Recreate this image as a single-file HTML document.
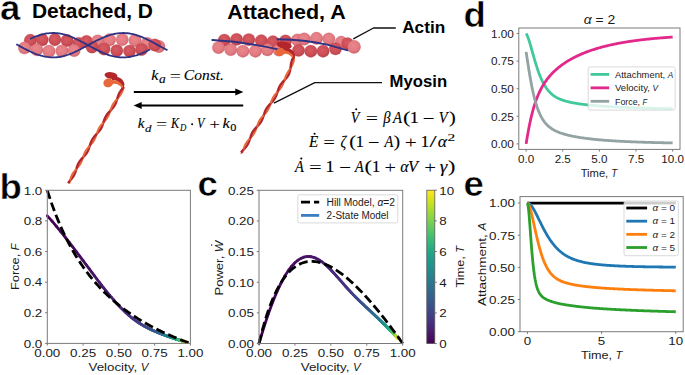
<!DOCTYPE html>
<html><head><meta charset="utf-8"><style>
html,body{margin:0;padding:0;background:#fff;overflow:hidden;}
svg{display:block;}
</style></head><body>
<svg width="685" height="375" viewBox="0 0 685 375" font-family='"Liberation Sans", sans-serif'>
<rect width="685" height="375" fill="#fff"/>
<line x1="47.3" y1="215.82" x2="52.06" y2="221.19" stroke="#440154" stroke-width="2.8" stroke-linecap="round"/>
<line x1="52.06" y1="221.19" x2="56.62" y2="226.55" stroke="#440256" stroke-width="2.8" stroke-linecap="round"/>
<line x1="56.62" y1="226.55" x2="60.98" y2="231.85" stroke="#450457" stroke-width="2.8" stroke-linecap="round"/>
<line x1="60.98" y1="231.85" x2="65.13" y2="237.05" stroke="#450559" stroke-width="2.8" stroke-linecap="round"/>
<line x1="65.13" y1="237.05" x2="69.09" y2="242.12" stroke="#46075a" stroke-width="2.8" stroke-linecap="round"/>
<line x1="69.09" y1="242.12" x2="72.86" y2="247.03" stroke="#46085c" stroke-width="2.8" stroke-linecap="round"/>
<line x1="72.86" y1="247.03" x2="76.44" y2="251.76" stroke="#460a5d" stroke-width="2.8" stroke-linecap="round"/>
<line x1="76.44" y1="251.76" x2="79.85" y2="256.3" stroke="#460b5e" stroke-width="2.8" stroke-linecap="round"/>
<line x1="79.85" y1="256.3" x2="83.09" y2="260.64" stroke="#470d60" stroke-width="2.8" stroke-linecap="round"/>
<line x1="83.09" y1="260.64" x2="86.16" y2="264.77" stroke="#470e61" stroke-width="2.8" stroke-linecap="round"/>
<line x1="86.16" y1="264.77" x2="89.09" y2="268.69" stroke="#471063" stroke-width="2.8" stroke-linecap="round"/>
<line x1="89.09" y1="268.69" x2="91.86" y2="272.41" stroke="#471164" stroke-width="2.8" stroke-linecap="round"/>
<line x1="91.86" y1="272.41" x2="94.5" y2="275.92" stroke="#471365" stroke-width="2.8" stroke-linecap="round"/>
<line x1="94.5" y1="275.92" x2="97.01" y2="279.23" stroke="#481467" stroke-width="2.8" stroke-linecap="round"/>
<line x1="97.01" y1="279.23" x2="99.4" y2="282.35" stroke="#481668" stroke-width="2.8" stroke-linecap="round"/>
<line x1="99.4" y1="282.35" x2="101.67" y2="285.29" stroke="#481769" stroke-width="2.8" stroke-linecap="round"/>
<line x1="101.67" y1="285.29" x2="103.83" y2="288.04" stroke="#48186a" stroke-width="2.8" stroke-linecap="round"/>
<line x1="103.83" y1="288.04" x2="105.9" y2="290.63" stroke="#481a6c" stroke-width="2.8" stroke-linecap="round"/>
<line x1="105.9" y1="290.63" x2="107.86" y2="293.05" stroke="#481b6d" stroke-width="2.8" stroke-linecap="round"/>
<line x1="107.86" y1="293.05" x2="109.74" y2="295.33" stroke="#481c6e" stroke-width="2.8" stroke-linecap="round"/>
<line x1="109.74" y1="295.33" x2="111.53" y2="297.46" stroke="#481d6f" stroke-width="2.8" stroke-linecap="round"/>
<line x1="111.53" y1="297.46" x2="113.24" y2="299.46" stroke="#481f70" stroke-width="2.8" stroke-linecap="round"/>
<line x1="113.24" y1="299.46" x2="114.88" y2="301.33" stroke="#482071" stroke-width="2.8" stroke-linecap="round"/>
<line x1="114.88" y1="301.33" x2="116.45" y2="303.08" stroke="#482173" stroke-width="2.8" stroke-linecap="round"/>
<line x1="116.45" y1="303.08" x2="117.96" y2="304.72" stroke="#482374" stroke-width="2.8" stroke-linecap="round"/>
<line x1="117.96" y1="304.72" x2="119.4" y2="306.26" stroke="#482475" stroke-width="2.8" stroke-linecap="round"/>
<line x1="119.4" y1="306.26" x2="120.79" y2="307.7" stroke="#482576" stroke-width="2.8" stroke-linecap="round"/>
<line x1="120.79" y1="307.7" x2="122.13" y2="309.05" stroke="#482677" stroke-width="2.8" stroke-linecap="round"/>
<line x1="122.13" y1="309.05" x2="123.41" y2="310.32" stroke="#482878" stroke-width="2.8" stroke-linecap="round"/>
<line x1="123.41" y1="310.32" x2="124.65" y2="311.51" stroke="#482979" stroke-width="2.8" stroke-linecap="round"/>
<line x1="124.65" y1="311.51" x2="125.85" y2="312.63" stroke="#472a7a" stroke-width="2.8" stroke-linecap="round"/>
<line x1="125.85" y1="312.63" x2="127" y2="313.69" stroke="#472c7a" stroke-width="2.8" stroke-linecap="round"/>
<line x1="127" y1="313.69" x2="128.11" y2="314.68" stroke="#472d7b" stroke-width="2.8" stroke-linecap="round"/>
<line x1="128.11" y1="314.68" x2="129.19" y2="315.61" stroke="#472e7c" stroke-width="2.8" stroke-linecap="round"/>
<line x1="129.19" y1="315.61" x2="130.23" y2="316.49" stroke="#472f7d" stroke-width="2.8" stroke-linecap="round"/>
<line x1="130.23" y1="316.49" x2="131.25" y2="317.32" stroke="#46307e" stroke-width="2.8" stroke-linecap="round"/>
<line x1="131.25" y1="317.32" x2="132.22" y2="318.1" stroke="#46327e" stroke-width="2.8" stroke-linecap="round"/>
<line x1="132.22" y1="318.1" x2="133.18" y2="318.84" stroke="#46337f" stroke-width="2.8" stroke-linecap="round"/>
<line x1="133.18" y1="318.84" x2="134.1" y2="319.54" stroke="#463480" stroke-width="2.8" stroke-linecap="round"/>
<line x1="134.1" y1="319.54" x2="135" y2="320.2" stroke="#453581" stroke-width="2.8" stroke-linecap="round"/>
<line x1="135" y1="320.2" x2="135.87" y2="320.83" stroke="#453781" stroke-width="2.8" stroke-linecap="round"/>
<line x1="135.87" y1="320.83" x2="136.72" y2="321.43" stroke="#453882" stroke-width="2.8" stroke-linecap="round"/>
<line x1="136.72" y1="321.43" x2="137.54" y2="321.99" stroke="#443a83" stroke-width="2.8" stroke-linecap="round"/>
<line x1="137.54" y1="321.99" x2="138.35" y2="322.53" stroke="#443b84" stroke-width="2.8" stroke-linecap="round"/>
<line x1="138.35" y1="322.53" x2="139.14" y2="323.05" stroke="#433d84" stroke-width="2.8" stroke-linecap="round"/>
<line x1="139.14" y1="323.05" x2="139.9" y2="323.54" stroke="#433e85" stroke-width="2.8" stroke-linecap="round"/>
<line x1="139.9" y1="323.54" x2="140.65" y2="324.01" stroke="#423f85" stroke-width="2.8" stroke-linecap="round"/>
<line x1="140.65" y1="324.01" x2="141.38" y2="324.45" stroke="#424086" stroke-width="2.8" stroke-linecap="round"/>
<line x1="141.38" y1="324.45" x2="142.1" y2="324.88" stroke="#424186" stroke-width="2.8" stroke-linecap="round"/>
<line x1="142.1" y1="324.88" x2="142.8" y2="325.29" stroke="#414287" stroke-width="2.8" stroke-linecap="round"/>
<line x1="142.8" y1="325.29" x2="143.48" y2="325.68" stroke="#414487" stroke-width="2.8" stroke-linecap="round"/>
<line x1="143.48" y1="325.68" x2="144.15" y2="326.06" stroke="#404588" stroke-width="2.8" stroke-linecap="round"/>
<line x1="144.15" y1="326.06" x2="144.8" y2="326.42" stroke="#404688" stroke-width="2.8" stroke-linecap="round"/>
<line x1="144.8" y1="326.42" x2="145.44" y2="326.77" stroke="#3f4788" stroke-width="2.8" stroke-linecap="round"/>
<line x1="145.44" y1="326.77" x2="146.07" y2="327.11" stroke="#3f4889" stroke-width="2.8" stroke-linecap="round"/>
<line x1="146.07" y1="327.11" x2="146.69" y2="327.43" stroke="#3e4989" stroke-width="2.8" stroke-linecap="round"/>
<line x1="146.69" y1="327.43" x2="147.29" y2="327.74" stroke="#3e4a89" stroke-width="2.8" stroke-linecap="round"/>
<line x1="147.29" y1="327.74" x2="147.88" y2="328.04" stroke="#3e4c8a" stroke-width="2.8" stroke-linecap="round"/>
<line x1="147.88" y1="328.04" x2="148.46" y2="328.33" stroke="#3d4d8a" stroke-width="2.8" stroke-linecap="round"/>
<line x1="148.46" y1="328.33" x2="149.03" y2="328.61" stroke="#3d4e8a" stroke-width="2.8" stroke-linecap="round"/>
<line x1="149.03" y1="328.61" x2="149.59" y2="328.89" stroke="#3c4f8a" stroke-width="2.8" stroke-linecap="round"/>
<line x1="149.59" y1="328.89" x2="150.14" y2="329.15" stroke="#3c508b" stroke-width="2.8" stroke-linecap="round"/>
<line x1="150.14" y1="329.15" x2="150.67" y2="329.41" stroke="#3b518b" stroke-width="2.8" stroke-linecap="round"/>
<line x1="150.67" y1="329.41" x2="151.2" y2="329.65" stroke="#3b528b" stroke-width="2.8" stroke-linecap="round"/>
<line x1="151.2" y1="329.65" x2="151.72" y2="329.89" stroke="#3a538b" stroke-width="2.8" stroke-linecap="round"/>
<line x1="151.72" y1="329.89" x2="152.23" y2="330.13" stroke="#3a548c" stroke-width="2.8" stroke-linecap="round"/>
<line x1="152.23" y1="330.13" x2="152.74" y2="330.36" stroke="#39558c" stroke-width="2.8" stroke-linecap="round"/>
<line x1="152.74" y1="330.36" x2="153.23" y2="330.58" stroke="#39568c" stroke-width="2.8" stroke-linecap="round"/>
<line x1="153.23" y1="330.58" x2="153.71" y2="330.79" stroke="#38588c" stroke-width="2.8" stroke-linecap="round"/>
<line x1="153.71" y1="330.79" x2="154.19" y2="331" stroke="#38598c" stroke-width="2.8" stroke-linecap="round"/>
<line x1="154.19" y1="331" x2="154.66" y2="331.21" stroke="#375a8c" stroke-width="2.8" stroke-linecap="round"/>
<line x1="154.66" y1="331.21" x2="155.12" y2="331.4" stroke="#375b8d" stroke-width="2.8" stroke-linecap="round"/>
<line x1="155.12" y1="331.4" x2="155.57" y2="331.6" stroke="#365c8d" stroke-width="2.8" stroke-linecap="round"/>
<line x1="155.57" y1="331.6" x2="156.02" y2="331.79" stroke="#365d8d" stroke-width="2.8" stroke-linecap="round"/>
<line x1="156.02" y1="331.79" x2="156.46" y2="331.97" stroke="#355e8d" stroke-width="2.8" stroke-linecap="round"/>
<line x1="156.46" y1="331.97" x2="156.89" y2="332.15" stroke="#355f8d" stroke-width="2.8" stroke-linecap="round"/>
<line x1="156.89" y1="332.15" x2="157.32" y2="332.33" stroke="#34608d" stroke-width="2.8" stroke-linecap="round"/>
<line x1="157.32" y1="332.33" x2="157.74" y2="332.5" stroke="#34618d" stroke-width="2.8" stroke-linecap="round"/>
<line x1="157.74" y1="332.5" x2="158.15" y2="332.67" stroke="#33628d" stroke-width="2.8" stroke-linecap="round"/>
<line x1="158.15" y1="332.67" x2="158.56" y2="332.83" stroke="#33638d" stroke-width="2.8" stroke-linecap="round"/>
<line x1="158.56" y1="332.83" x2="158.96" y2="332.99" stroke="#32648e" stroke-width="2.8" stroke-linecap="round"/>
<line x1="158.96" y1="332.99" x2="159.35" y2="333.15" stroke="#32658e" stroke-width="2.8" stroke-linecap="round"/>
<line x1="159.35" y1="333.15" x2="159.74" y2="333.3" stroke="#31668e" stroke-width="2.8" stroke-linecap="round"/>
<line x1="159.74" y1="333.3" x2="160.12" y2="333.46" stroke="#31678e" stroke-width="2.8" stroke-linecap="round"/>
<line x1="160.12" y1="333.46" x2="160.5" y2="333.6" stroke="#30698e" stroke-width="2.8" stroke-linecap="round"/>
<line x1="160.5" y1="333.6" x2="160.87" y2="333.75" stroke="#306a8e" stroke-width="2.8" stroke-linecap="round"/>
<line x1="160.87" y1="333.75" x2="161.23" y2="333.89" stroke="#2f6b8e" stroke-width="2.8" stroke-linecap="round"/>
<line x1="161.23" y1="333.89" x2="161.59" y2="334.03" stroke="#2f6c8e" stroke-width="2.8" stroke-linecap="round"/>
<line x1="161.59" y1="334.03" x2="161.95" y2="334.16" stroke="#2e6d8e" stroke-width="2.8" stroke-linecap="round"/>
<line x1="161.95" y1="334.16" x2="162.3" y2="334.3" stroke="#2e6e8e" stroke-width="2.8" stroke-linecap="round"/>
<line x1="162.3" y1="334.3" x2="162.64" y2="334.43" stroke="#2e6f8e" stroke-width="2.8" stroke-linecap="round"/>
<line x1="162.64" y1="334.43" x2="162.98" y2="334.56" stroke="#2d708e" stroke-width="2.8" stroke-linecap="round"/>
<line x1="162.98" y1="334.56" x2="163.32" y2="334.68" stroke="#2d718e" stroke-width="2.8" stroke-linecap="round"/>
<line x1="163.32" y1="334.68" x2="163.65" y2="334.81" stroke="#2c718e" stroke-width="2.8" stroke-linecap="round"/>
<line x1="163.65" y1="334.81" x2="163.97" y2="334.93" stroke="#2c728e" stroke-width="2.8" stroke-linecap="round"/>
<line x1="163.97" y1="334.93" x2="164.29" y2="335.05" stroke="#2c738e" stroke-width="2.8" stroke-linecap="round"/>
<line x1="164.29" y1="335.05" x2="164.61" y2="335.16" stroke="#2b748e" stroke-width="2.8" stroke-linecap="round"/>
<line x1="164.61" y1="335.16" x2="164.92" y2="335.28" stroke="#2b758e" stroke-width="2.8" stroke-linecap="round"/>
<line x1="164.92" y1="335.28" x2="165.23" y2="335.39" stroke="#2a768e" stroke-width="2.8" stroke-linecap="round"/>
<line x1="165.23" y1="335.39" x2="165.53" y2="335.5" stroke="#2a778e" stroke-width="2.8" stroke-linecap="round"/>
<line x1="165.53" y1="335.5" x2="165.83" y2="335.61" stroke="#2a788e" stroke-width="2.8" stroke-linecap="round"/>
<line x1="165.83" y1="335.61" x2="166.12" y2="335.72" stroke="#29798e" stroke-width="2.8" stroke-linecap="round"/>
<line x1="166.12" y1="335.72" x2="166.42" y2="335.82" stroke="#297a8e" stroke-width="2.8" stroke-linecap="round"/>
<line x1="166.42" y1="335.82" x2="166.7" y2="335.93" stroke="#297b8e" stroke-width="2.8" stroke-linecap="round"/>
<line x1="166.7" y1="335.93" x2="166.99" y2="336.03" stroke="#287c8e" stroke-width="2.8" stroke-linecap="round"/>
<line x1="166.99" y1="336.03" x2="167.26" y2="336.13" stroke="#287d8e" stroke-width="2.8" stroke-linecap="round"/>
<line x1="167.26" y1="336.13" x2="167.54" y2="336.23" stroke="#277e8e" stroke-width="2.8" stroke-linecap="round"/>
<line x1="167.54" y1="336.23" x2="167.81" y2="336.32" stroke="#277f8e" stroke-width="2.8" stroke-linecap="round"/>
<line x1="167.81" y1="336.32" x2="168.08" y2="336.42" stroke="#27808e" stroke-width="2.8" stroke-linecap="round"/>
<line x1="168.08" y1="336.42" x2="168.34" y2="336.51" stroke="#26818e" stroke-width="2.8" stroke-linecap="round"/>
<line x1="168.34" y1="336.51" x2="168.61" y2="336.6" stroke="#26828e" stroke-width="2.8" stroke-linecap="round"/>
<line x1="168.61" y1="336.6" x2="168.86" y2="336.69" stroke="#26828e" stroke-width="2.8" stroke-linecap="round"/>
<line x1="168.86" y1="336.69" x2="169.12" y2="336.78" stroke="#25838e" stroke-width="2.8" stroke-linecap="round"/>
<line x1="169.12" y1="336.78" x2="169.37" y2="336.87" stroke="#25848e" stroke-width="2.8" stroke-linecap="round"/>
<line x1="169.37" y1="336.87" x2="169.62" y2="336.95" stroke="#25858e" stroke-width="2.8" stroke-linecap="round"/>
<line x1="169.62" y1="336.95" x2="169.86" y2="337.04" stroke="#24868e" stroke-width="2.8" stroke-linecap="round"/>
<line x1="169.86" y1="337.04" x2="170.1" y2="337.12" stroke="#24878e" stroke-width="2.8" stroke-linecap="round"/>
<line x1="170.1" y1="337.12" x2="170.34" y2="337.2" stroke="#23888e" stroke-width="2.8" stroke-linecap="round"/>
<line x1="170.34" y1="337.2" x2="170.57" y2="337.28" stroke="#23898e" stroke-width="2.8" stroke-linecap="round"/>
<line x1="170.57" y1="337.28" x2="170.8" y2="337.36" stroke="#238a8d" stroke-width="2.8" stroke-linecap="round"/>
<line x1="170.8" y1="337.36" x2="171.03" y2="337.44" stroke="#228b8d" stroke-width="2.8" stroke-linecap="round"/>
<line x1="171.03" y1="337.44" x2="171.26" y2="337.52" stroke="#228c8d" stroke-width="2.8" stroke-linecap="round"/>
<line x1="171.26" y1="337.52" x2="171.48" y2="337.59" stroke="#228d8d" stroke-width="2.8" stroke-linecap="round"/>
<line x1="171.48" y1="337.59" x2="171.7" y2="337.67" stroke="#218e8d" stroke-width="2.8" stroke-linecap="round"/>
<line x1="171.7" y1="337.67" x2="171.92" y2="337.74" stroke="#218f8d" stroke-width="2.8" stroke-linecap="round"/>
<line x1="171.92" y1="337.74" x2="172.13" y2="337.81" stroke="#21918c" stroke-width="2.8" stroke-linecap="round"/>
<line x1="172.13" y1="337.81" x2="172.35" y2="337.89" stroke="#20928c" stroke-width="2.8" stroke-linecap="round"/>
<line x1="172.35" y1="337.89" x2="172.55" y2="337.96" stroke="#20928c" stroke-width="2.8" stroke-linecap="round"/>
<line x1="172.55" y1="337.96" x2="172.76" y2="338.02" stroke="#20938c" stroke-width="2.8" stroke-linecap="round"/>
<line x1="172.76" y1="338.02" x2="172.96" y2="338.09" stroke="#1f948c" stroke-width="2.8" stroke-linecap="round"/>
<line x1="172.96" y1="338.09" x2="173.17" y2="338.16" stroke="#1f958b" stroke-width="2.8" stroke-linecap="round"/>
<line x1="173.17" y1="338.16" x2="173.36" y2="338.23" stroke="#1f968b" stroke-width="2.8" stroke-linecap="round"/>
<line x1="173.36" y1="338.23" x2="173.56" y2="338.29" stroke="#1f978b" stroke-width="2.8" stroke-linecap="round"/>
<line x1="173.56" y1="338.29" x2="173.75" y2="338.35" stroke="#1f988b" stroke-width="2.8" stroke-linecap="round"/>
<line x1="173.75" y1="338.35" x2="173.95" y2="338.42" stroke="#1f998a" stroke-width="2.8" stroke-linecap="round"/>
<line x1="173.95" y1="338.42" x2="174.13" y2="338.48" stroke="#1f9a8a" stroke-width="2.8" stroke-linecap="round"/>
<line x1="174.13" y1="338.48" x2="174.32" y2="338.54" stroke="#1e9b8a" stroke-width="2.8" stroke-linecap="round"/>
<line x1="174.32" y1="338.54" x2="174.5" y2="338.6" stroke="#1e9c89" stroke-width="2.8" stroke-linecap="round"/>
<line x1="174.5" y1="338.6" x2="174.69" y2="338.66" stroke="#1e9d89" stroke-width="2.8" stroke-linecap="round"/>
<line x1="174.69" y1="338.66" x2="174.87" y2="338.72" stroke="#1f9e89" stroke-width="2.8" stroke-linecap="round"/>
<line x1="174.87" y1="338.72" x2="175.04" y2="338.78" stroke="#1f9f88" stroke-width="2.8" stroke-linecap="round"/>
<line x1="175.04" y1="338.78" x2="175.22" y2="338.83" stroke="#1fa088" stroke-width="2.8" stroke-linecap="round"/>
<line x1="175.22" y1="338.83" x2="175.39" y2="338.89" stroke="#1fa188" stroke-width="2.8" stroke-linecap="round"/>
<line x1="175.39" y1="338.89" x2="175.56" y2="338.95" stroke="#1fa187" stroke-width="2.8" stroke-linecap="round"/>
<line x1="175.56" y1="338.95" x2="175.73" y2="339" stroke="#1fa287" stroke-width="2.8" stroke-linecap="round"/>
<line x1="175.73" y1="339" x2="175.9" y2="339.05" stroke="#20a386" stroke-width="2.8" stroke-linecap="round"/>
<line x1="175.9" y1="339.05" x2="176.06" y2="339.11" stroke="#20a486" stroke-width="2.8" stroke-linecap="round"/>
<line x1="176.06" y1="339.11" x2="176.23" y2="339.16" stroke="#21a585" stroke-width="2.8" stroke-linecap="round"/>
<line x1="176.23" y1="339.16" x2="176.39" y2="339.21" stroke="#21a685" stroke-width="2.8" stroke-linecap="round"/>
<line x1="176.39" y1="339.21" x2="176.54" y2="339.26" stroke="#22a785" stroke-width="2.8" stroke-linecap="round"/>
<line x1="176.54" y1="339.26" x2="176.7" y2="339.31" stroke="#22a884" stroke-width="2.8" stroke-linecap="round"/>
<line x1="176.7" y1="339.31" x2="176.86" y2="339.36" stroke="#23a983" stroke-width="2.8" stroke-linecap="round"/>
<line x1="176.86" y1="339.36" x2="177.01" y2="339.41" stroke="#24aa83" stroke-width="2.8" stroke-linecap="round"/>
<line x1="177.01" y1="339.41" x2="177.16" y2="339.46" stroke="#25ab82" stroke-width="2.8" stroke-linecap="round"/>
<line x1="177.16" y1="339.46" x2="177.31" y2="339.51" stroke="#25ac82" stroke-width="2.8" stroke-linecap="round"/>
<line x1="177.31" y1="339.51" x2="177.46" y2="339.55" stroke="#26ad81" stroke-width="2.8" stroke-linecap="round"/>
<line x1="177.46" y1="339.55" x2="177.6" y2="339.6" stroke="#27ad81" stroke-width="2.8" stroke-linecap="round"/>
<line x1="177.6" y1="339.6" x2="177.75" y2="339.65" stroke="#28ae80" stroke-width="2.8" stroke-linecap="round"/>
<line x1="177.75" y1="339.65" x2="177.89" y2="339.69" stroke="#29af7f" stroke-width="2.8" stroke-linecap="round"/>
<line x1="177.89" y1="339.69" x2="178.03" y2="339.73" stroke="#2ab07f" stroke-width="2.8" stroke-linecap="round"/>
<line x1="178.03" y1="339.73" x2="178.17" y2="339.78" stroke="#2cb17e" stroke-width="2.8" stroke-linecap="round"/>
<line x1="178.17" y1="339.78" x2="178.31" y2="339.82" stroke="#2db27d" stroke-width="2.8" stroke-linecap="round"/>
<line x1="178.31" y1="339.82" x2="178.44" y2="339.86" stroke="#2eb37c" stroke-width="2.8" stroke-linecap="round"/>
<line x1="178.44" y1="339.86" x2="178.58" y2="339.91" stroke="#2fb47c" stroke-width="2.8" stroke-linecap="round"/>
<line x1="178.58" y1="339.91" x2="178.71" y2="339.95" stroke="#31b57b" stroke-width="2.8" stroke-linecap="round"/>
<line x1="178.71" y1="339.95" x2="178.84" y2="339.99" stroke="#32b67a" stroke-width="2.8" stroke-linecap="round"/>
<line x1="178.84" y1="339.99" x2="178.97" y2="340.03" stroke="#34b679" stroke-width="2.8" stroke-linecap="round"/>
<line x1="178.97" y1="340.03" x2="179.1" y2="340.07" stroke="#37b878" stroke-width="2.8" stroke-linecap="round"/>
<line x1="179.1" y1="340.07" x2="179.22" y2="340.11" stroke="#38b977" stroke-width="2.8" stroke-linecap="round"/>
<line x1="179.22" y1="340.11" x2="179.35" y2="340.15" stroke="#3aba76" stroke-width="2.8" stroke-linecap="round"/>
<line x1="179.35" y1="340.15" x2="179.47" y2="340.19" stroke="#3bbb75" stroke-width="2.8" stroke-linecap="round"/>
<line x1="179.47" y1="340.19" x2="179.59" y2="340.22" stroke="#3dbc74" stroke-width="2.8" stroke-linecap="round"/>
<line x1="179.59" y1="340.22" x2="179.71" y2="340.26" stroke="#3fbc73" stroke-width="2.8" stroke-linecap="round"/>
<line x1="179.71" y1="340.26" x2="179.83" y2="340.3" stroke="#40bd72" stroke-width="2.8" stroke-linecap="round"/>
<line x1="179.83" y1="340.3" x2="179.95" y2="340.33" stroke="#42be71" stroke-width="2.8" stroke-linecap="round"/>
<line x1="179.95" y1="340.33" x2="180.07" y2="340.37" stroke="#44bf70" stroke-width="2.8" stroke-linecap="round"/>
<line x1="180.07" y1="340.37" x2="180.18" y2="340.41" stroke="#46c06f" stroke-width="2.8" stroke-linecap="round"/>
<line x1="180.18" y1="340.41" x2="180.29" y2="340.44" stroke="#48c16e" stroke-width="2.8" stroke-linecap="round"/>
<line x1="180.29" y1="340.44" x2="180.41" y2="340.48" stroke="#4ac16d" stroke-width="2.8" stroke-linecap="round"/>
<line x1="180.41" y1="340.48" x2="180.52" y2="340.51" stroke="#4cc26c" stroke-width="2.8" stroke-linecap="round"/>
<line x1="180.52" y1="340.51" x2="180.63" y2="340.54" stroke="#4ec36b" stroke-width="2.8" stroke-linecap="round"/>
<line x1="180.63" y1="340.54" x2="180.74" y2="340.58" stroke="#50c46a" stroke-width="2.8" stroke-linecap="round"/>
<line x1="180.74" y1="340.58" x2="180.84" y2="340.61" stroke="#52c569" stroke-width="2.8" stroke-linecap="round"/>
<line x1="180.84" y1="340.61" x2="180.95" y2="340.64" stroke="#54c568" stroke-width="2.8" stroke-linecap="round"/>
<line x1="180.95" y1="340.64" x2="181.05" y2="340.67" stroke="#56c667" stroke-width="2.8" stroke-linecap="round"/>
<line x1="181.05" y1="340.67" x2="181.16" y2="340.7" stroke="#58c765" stroke-width="2.8" stroke-linecap="round"/>
<line x1="181.16" y1="340.7" x2="181.26" y2="340.74" stroke="#5ac864" stroke-width="2.8" stroke-linecap="round"/>
<line x1="181.26" y1="340.74" x2="181.36" y2="340.77" stroke="#5cc863" stroke-width="2.8" stroke-linecap="round"/>
<line x1="181.36" y1="340.77" x2="181.46" y2="340.8" stroke="#5ec962" stroke-width="2.8" stroke-linecap="round"/>
<line x1="181.46" y1="340.8" x2="181.56" y2="340.83" stroke="#60ca60" stroke-width="2.8" stroke-linecap="round"/>
<line x1="181.56" y1="340.83" x2="181.66" y2="340.86" stroke="#63cb5f" stroke-width="2.8" stroke-linecap="round"/>
<line x1="181.66" y1="340.86" x2="181.75" y2="340.89" stroke="#65cb5e" stroke-width="2.8" stroke-linecap="round"/>
<line x1="181.75" y1="340.89" x2="181.85" y2="340.92" stroke="#67cc5c" stroke-width="2.8" stroke-linecap="round"/>
<line x1="181.85" y1="340.92" x2="181.94" y2="340.94" stroke="#69cd5b" stroke-width="2.8" stroke-linecap="round"/>
<line x1="181.94" y1="340.94" x2="182.03" y2="340.97" stroke="#6ccd5a" stroke-width="2.8" stroke-linecap="round"/>
<line x1="182.03" y1="340.97" x2="182.13" y2="341" stroke="#6ece58" stroke-width="2.8" stroke-linecap="round"/>
<line x1="182.13" y1="341" x2="182.22" y2="341.03" stroke="#70cf57" stroke-width="2.8" stroke-linecap="round"/>
<line x1="182.22" y1="341.03" x2="182.31" y2="341.05" stroke="#73d056" stroke-width="2.8" stroke-linecap="round"/>
<line x1="182.31" y1="341.05" x2="182.4" y2="341.08" stroke="#75d054" stroke-width="2.8" stroke-linecap="round"/>
<line x1="182.4" y1="341.08" x2="182.48" y2="341.11" stroke="#77d153" stroke-width="2.8" stroke-linecap="round"/>
<line x1="182.48" y1="341.11" x2="182.57" y2="341.13" stroke="#7ad151" stroke-width="2.8" stroke-linecap="round"/>
<line x1="182.57" y1="341.13" x2="182.66" y2="341.16" stroke="#7cd250" stroke-width="2.8" stroke-linecap="round"/>
<line x1="182.66" y1="341.16" x2="182.74" y2="341.19" stroke="#7fd34e" stroke-width="2.8" stroke-linecap="round"/>
<line x1="182.74" y1="341.19" x2="182.83" y2="341.21" stroke="#81d34d" stroke-width="2.8" stroke-linecap="round"/>
<line x1="182.83" y1="341.21" x2="182.91" y2="341.24" stroke="#84d44b" stroke-width="2.8" stroke-linecap="round"/>
<line x1="182.91" y1="341.24" x2="182.99" y2="341.26" stroke="#86d549" stroke-width="2.8" stroke-linecap="round"/>
<line x1="182.99" y1="341.26" x2="183.07" y2="341.28" stroke="#89d548" stroke-width="2.8" stroke-linecap="round"/>
<line x1="183.07" y1="341.28" x2="183.15" y2="341.31" stroke="#8bd646" stroke-width="2.8" stroke-linecap="round"/>
<line x1="183.15" y1="341.31" x2="183.23" y2="341.33" stroke="#8ed645" stroke-width="2.8" stroke-linecap="round"/>
<line x1="183.23" y1="341.33" x2="183.31" y2="341.36" stroke="#93d741" stroke-width="2.8" stroke-linecap="round"/>
<line x1="183.31" y1="341.36" x2="183.39" y2="341.38" stroke="#95d840" stroke-width="2.8" stroke-linecap="round"/>
<line x1="183.39" y1="341.38" x2="183.47" y2="341.4" stroke="#98d83e" stroke-width="2.8" stroke-linecap="round"/>
<line x1="183.47" y1="341.4" x2="183.54" y2="341.42" stroke="#9bd93c" stroke-width="2.8" stroke-linecap="round"/>
<line x1="183.54" y1="341.42" x2="183.62" y2="341.45" stroke="#9dd93b" stroke-width="2.8" stroke-linecap="round"/>
<line x1="183.62" y1="341.45" x2="183.69" y2="341.47" stroke="#a0da39" stroke-width="2.8" stroke-linecap="round"/>
<line x1="183.69" y1="341.47" x2="183.76" y2="341.49" stroke="#a2da37" stroke-width="2.8" stroke-linecap="round"/>
<line x1="183.76" y1="341.49" x2="183.84" y2="341.51" stroke="#a5db36" stroke-width="2.8" stroke-linecap="round"/>
<line x1="183.84" y1="341.51" x2="183.91" y2="341.53" stroke="#a8db34" stroke-width="2.8" stroke-linecap="round"/>
<line x1="183.91" y1="341.53" x2="183.98" y2="341.55" stroke="#aadc32" stroke-width="2.8" stroke-linecap="round"/>
<line x1="183.98" y1="341.55" x2="184.05" y2="341.57" stroke="#addc30" stroke-width="2.8" stroke-linecap="round"/>
<line x1="184.05" y1="341.57" x2="184.12" y2="341.6" stroke="#b0dd2f" stroke-width="2.8" stroke-linecap="round"/>
<line x1="184.12" y1="341.6" x2="184.19" y2="341.62" stroke="#b2dd2d" stroke-width="2.8" stroke-linecap="round"/>
<line x1="184.19" y1="341.62" x2="184.25" y2="341.64" stroke="#b5de2b" stroke-width="2.8" stroke-linecap="round"/>
<line x1="184.25" y1="341.64" x2="184.32" y2="341.66" stroke="#b8de29" stroke-width="2.8" stroke-linecap="round"/>
<line x1="184.32" y1="341.66" x2="184.39" y2="341.67" stroke="#bade28" stroke-width="2.8" stroke-linecap="round"/>
<line x1="184.39" y1="341.67" x2="184.45" y2="341.69" stroke="#bddf26" stroke-width="2.8" stroke-linecap="round"/>
<line x1="184.45" y1="341.69" x2="184.52" y2="341.71" stroke="#c0df25" stroke-width="2.8" stroke-linecap="round"/>
<line x1="184.52" y1="341.71" x2="184.58" y2="341.73" stroke="#c2df23" stroke-width="2.8" stroke-linecap="round"/>
<line x1="184.58" y1="341.73" x2="184.64" y2="341.75" stroke="#c5e021" stroke-width="2.8" stroke-linecap="round"/>
<line x1="184.64" y1="341.75" x2="184.71" y2="341.77" stroke="#c8e020" stroke-width="2.8" stroke-linecap="round"/>
<line x1="184.71" y1="341.77" x2="184.77" y2="341.79" stroke="#cae11f" stroke-width="2.8" stroke-linecap="round"/>
<line x1="184.77" y1="341.79" x2="184.83" y2="341.81" stroke="#cde11d" stroke-width="2.8" stroke-linecap="round"/>
<line x1="184.83" y1="341.81" x2="184.89" y2="341.82" stroke="#d0e11c" stroke-width="2.8" stroke-linecap="round"/>
<line x1="184.89" y1="341.82" x2="184.95" y2="341.84" stroke="#d2e21b" stroke-width="2.8" stroke-linecap="round"/>
<line x1="184.95" y1="341.84" x2="185.01" y2="341.86" stroke="#d5e21a" stroke-width="2.8" stroke-linecap="round"/>
<line x1="185.01" y1="341.86" x2="185.07" y2="341.88" stroke="#d8e219" stroke-width="2.8" stroke-linecap="round"/>
<line x1="185.07" y1="341.88" x2="185.12" y2="341.89" stroke="#dae319" stroke-width="2.8" stroke-linecap="round"/>
<line x1="185.12" y1="341.89" x2="185.18" y2="341.91" stroke="#dde318" stroke-width="2.8" stroke-linecap="round"/>
<line x1="185.18" y1="341.91" x2="185.24" y2="341.93" stroke="#dfe318" stroke-width="2.8" stroke-linecap="round"/>
<line x1="185.24" y1="341.93" x2="185.29" y2="341.94" stroke="#e2e418" stroke-width="2.8" stroke-linecap="round"/>
<line x1="185.29" y1="341.94" x2="185.35" y2="341.96" stroke="#e5e419" stroke-width="2.8" stroke-linecap="round"/>
<line x1="185.35" y1="341.96" x2="185.4" y2="341.97" stroke="#e7e419" stroke-width="2.8" stroke-linecap="round"/>
<line x1="185.4" y1="341.97" x2="185.46" y2="341.99" stroke="#eae51a" stroke-width="2.8" stroke-linecap="round"/>
<line x1="185.46" y1="341.99" x2="185.51" y2="342.01" stroke="#ece51b" stroke-width="2.8" stroke-linecap="round"/>
<line x1="185.51" y1="342.01" x2="185.56" y2="342.02" stroke="#efe51c" stroke-width="2.8" stroke-linecap="round"/>
<line x1="185.56" y1="342.02" x2="185.62" y2="342.04" stroke="#f1e51d" stroke-width="2.8" stroke-linecap="round"/>
<line x1="185.62" y1="342.04" x2="185.67" y2="342.05" stroke="#f4e61e" stroke-width="2.8" stroke-linecap="round"/>
<line x1="185.67" y1="342.05" x2="185.72" y2="342.07" stroke="#f6e620" stroke-width="2.8" stroke-linecap="round"/>
<line x1="185.72" y1="342.07" x2="185.77" y2="342.08" stroke="#f8e621" stroke-width="2.8" stroke-linecap="round"/>
<line x1="185.77" y1="342.08" x2="185.82" y2="342.1" stroke="#fbe723" stroke-width="2.8" stroke-linecap="round"/>
<polyline points="47.3,190.3 48.02,192.59 48.74,194.83 49.46,197.02 50.18,199.18 50.9,201.29 51.61,203.36 52.33,205.39 53.05,207.39 53.77,209.35 54.49,211.27 55.21,213.16 55.93,215.02 56.65,216.84 57.37,218.63 58.09,220.39 58.81,222.11 59.52,223.81 60.24,225.48 60.96,227.12 61.68,228.74 62.4,230.32 63.12,231.88 63.84,233.42 64.56,234.93 65.28,236.41 66,237.88 66.72,239.32 67.43,240.73 68.15,242.13 68.87,243.5 69.59,244.85 70.31,246.18 71.03,247.5 71.75,248.79 72.47,250.06 73.19,251.31 73.91,252.55 74.63,253.77 75.34,254.97 76.06,256.15 76.78,257.32 77.5,258.46 78.22,259.6 78.94,260.72 79.66,261.82 80.38,262.9 81.1,263.98 81.82,265.03 82.54,266.08 83.25,267.11 83.97,268.12 84.69,269.12 85.41,270.11 86.13,271.09 86.85,272.05 87.57,273 88.29,273.94 89.01,274.87 89.73,275.78 90.45,276.69 91.16,277.58 91.88,278.46 92.6,279.33 93.32,280.19 94.04,281.04 94.76,281.88 95.48,282.71 96.2,283.53 96.92,284.34 97.64,285.14 98.36,285.93 99.07,286.71 99.79,287.49 100.51,288.25 101.23,289 101.95,289.75 102.67,290.49 103.39,291.22 104.11,291.94 104.83,292.65 105.55,293.36 106.27,294.05 106.98,294.74 107.7,295.43 108.42,296.1 109.14,296.77 109.86,297.43 110.58,298.08 111.3,298.73 112.02,299.37 112.74,300 113.46,300.63 114.18,301.25 114.89,301.86 115.61,302.47 116.33,303.07 117.05,303.66 117.77,304.25 118.49,304.84 119.21,305.41 119.93,305.98 120.65,306.55 121.37,307.11 122.09,307.66 122.81,308.21 123.52,308.76 124.24,309.3 124.96,309.83 125.68,310.36 126.4,310.88 127.12,311.4 127.84,311.91 128.56,312.42 129.28,312.92 130,313.42 130.72,313.92 131.43,314.41 132.15,314.89 132.87,315.37 133.59,315.85 134.31,316.32 135.03,316.79 135.75,317.25 136.47,317.71 137.19,318.17 137.91,318.62 138.63,319.07 139.34,319.51 140.06,319.95 140.78,320.38 141.5,320.82 142.22,321.25 142.94,321.67 143.66,322.09 144.38,322.51 145.1,322.92 145.82,323.33 146.54,323.74 147.25,324.14 147.97,324.54 148.69,324.94 149.41,325.33 150.13,325.72 150.85,326.11 151.57,326.49 152.29,326.87 153.01,327.25 153.73,327.63 154.45,328 155.16,328.37 155.88,328.73 156.6,329.09 157.32,329.45 158.04,329.81 158.76,330.17 159.48,330.52 160.2,330.87 160.92,331.21 161.64,331.55 162.36,331.9 163.07,332.23 163.79,332.57 164.51,332.9 165.23,333.23 165.95,333.56 166.67,333.89 167.39,334.21 168.11,334.53 168.83,334.85 169.55,335.16 170.27,335.48 170.98,335.79 171.7,336.1 172.42,336.4 173.14,336.71 173.86,337.01 174.58,337.31 175.3,337.61 176.02,337.9 176.74,338.2 177.46,338.49 178.18,338.78 178.89,339.06 179.61,339.35 180.33,339.63 181.05,339.91 181.77,340.19 182.49,340.47 183.21,340.75 183.93,341.02 184.65,341.29 185.37,341.56 186.09,341.83 186.8,342.1 187.52,342.36 188.24,342.62 188.96,342.88 189.68,343.14 190.4,343.4" fill="none" stroke="#000" stroke-width="2.8" stroke-linejoin="round" stroke-linecap="butt" stroke-dasharray="9 4"/>
<rect x="47.3" y="190.3" width="143.1" height="153.1" fill="none" stroke="#7a7a7a" stroke-width="1"/>
<line x1="47.3" y1="343.4" x2="47.3" y2="345.6" stroke="#7a7a7a" stroke-width="1"/>
<text x="47.3" y="357.2" font-size="11.7" text-anchor="middle" fill="#1a1a1a" textLength="26.05" lengthAdjust="spacingAndGlyphs">0.00</text>
<line x1="83.08" y1="343.4" x2="83.08" y2="345.6" stroke="#7a7a7a" stroke-width="1"/>
<text x="83.08" y="357.2" font-size="11.7" text-anchor="middle" fill="#1a1a1a" textLength="26.05" lengthAdjust="spacingAndGlyphs">0.25</text>
<line x1="118.85" y1="343.4" x2="118.85" y2="345.6" stroke="#7a7a7a" stroke-width="1"/>
<text x="118.85" y="357.2" font-size="11.7" text-anchor="middle" fill="#1a1a1a" textLength="26.05" lengthAdjust="spacingAndGlyphs">0.50</text>
<line x1="154.62" y1="343.4" x2="154.62" y2="345.6" stroke="#7a7a7a" stroke-width="1"/>
<text x="154.62" y="357.2" font-size="11.7" text-anchor="middle" fill="#1a1a1a" textLength="26.05" lengthAdjust="spacingAndGlyphs">0.75</text>
<line x1="190.4" y1="343.4" x2="190.4" y2="345.6" stroke="#7a7a7a" stroke-width="1"/>
<text x="190.4" y="357.2" font-size="11.7" text-anchor="middle" fill="#1a1a1a" textLength="26.05" lengthAdjust="spacingAndGlyphs">1.00</text>
<line x1="45.1" y1="343.4" x2="47.3" y2="343.4" stroke="#7a7a7a" stroke-width="1"/>
<text x="42.3" y="347.7" font-size="11.7" text-anchor="end" fill="#1a1a1a" textLength="18.61" lengthAdjust="spacingAndGlyphs">0.0</text>
<line x1="45.1" y1="312.78" x2="47.3" y2="312.78" stroke="#7a7a7a" stroke-width="1"/>
<text x="42.3" y="317.08" font-size="11.7" text-anchor="end" fill="#1a1a1a" textLength="18.61" lengthAdjust="spacingAndGlyphs">0.2</text>
<line x1="45.1" y1="282.16" x2="47.3" y2="282.16" stroke="#7a7a7a" stroke-width="1"/>
<text x="42.3" y="286.46" font-size="11.7" text-anchor="end" fill="#1a1a1a" textLength="18.61" lengthAdjust="spacingAndGlyphs">0.4</text>
<line x1="45.1" y1="251.54" x2="47.3" y2="251.54" stroke="#7a7a7a" stroke-width="1"/>
<text x="42.3" y="255.84" font-size="11.7" text-anchor="end" fill="#1a1a1a" textLength="18.61" lengthAdjust="spacingAndGlyphs">0.6</text>
<line x1="45.1" y1="220.92" x2="47.3" y2="220.92" stroke="#7a7a7a" stroke-width="1"/>
<text x="42.3" y="225.22" font-size="11.7" text-anchor="end" fill="#1a1a1a" textLength="18.61" lengthAdjust="spacingAndGlyphs">0.8</text>
<line x1="45.1" y1="190.3" x2="47.3" y2="190.3" stroke="#7a7a7a" stroke-width="1"/>
<text x="42.3" y="194.6" font-size="11.7" text-anchor="end" fill="#1a1a1a" textLength="18.61" lengthAdjust="spacingAndGlyphs">1.0</text>
<g transform="translate(118.5 371)">
<text x="-30.03" y="0" font-size="11.7" fill="#1a1a1a" textLength="52.35" lengthAdjust="spacingAndGlyphs">Velocity,&#160;</text>
<text x="22.31" y="0" font-size="11.7" fill="#1a1a1a" font-style="italic" textLength="7.72" lengthAdjust="spacingAndGlyphs">V</text>
</g>
<g transform="translate(18.9 266.7) rotate(-90)">
<text x="-23.25" y="0" font-size="11.7" fill="#1a1a1a" textLength="39.77" lengthAdjust="spacingAndGlyphs">Force,&#160;</text>
<text x="16.52" y="0" font-size="11.7" fill="#1a1a1a" font-style="italic" textLength="6.73" lengthAdjust="spacingAndGlyphs">F</text>
</g>
<line x1="259" y1="343.5" x2="263.78" y2="327.63" stroke="#440154" stroke-width="2.8" stroke-linecap="round"/>
<line x1="263.78" y1="327.63" x2="268.36" y2="313.8" stroke="#440256" stroke-width="2.8" stroke-linecap="round"/>
<line x1="268.36" y1="313.8" x2="272.73" y2="301.9" stroke="#450457" stroke-width="2.8" stroke-linecap="round"/>
<line x1="272.73" y1="301.9" x2="276.91" y2="291.79" stroke="#450559" stroke-width="2.8" stroke-linecap="round"/>
<line x1="276.91" y1="291.79" x2="280.88" y2="283.32" stroke="#46075a" stroke-width="2.8" stroke-linecap="round"/>
<line x1="280.88" y1="283.32" x2="284.66" y2="276.33" stroke="#46085c" stroke-width="2.8" stroke-linecap="round"/>
<line x1="284.66" y1="276.33" x2="288.26" y2="270.68" stroke="#460a5d" stroke-width="2.8" stroke-linecap="round"/>
<line x1="288.26" y1="270.68" x2="291.68" y2="266.19" stroke="#460b5e" stroke-width="2.8" stroke-linecap="round"/>
<line x1="291.68" y1="266.19" x2="294.94" y2="262.73" stroke="#470d60" stroke-width="2.8" stroke-linecap="round"/>
<line x1="294.94" y1="262.73" x2="298.03" y2="260.17" stroke="#470e61" stroke-width="2.8" stroke-linecap="round"/>
<line x1="298.03" y1="260.17" x2="300.96" y2="258.37" stroke="#471063" stroke-width="2.8" stroke-linecap="round"/>
<line x1="300.96" y1="258.37" x2="303.75" y2="257.22" stroke="#471164" stroke-width="2.8" stroke-linecap="round"/>
<line x1="303.75" y1="257.22" x2="306.4" y2="256.63" stroke="#471365" stroke-width="2.8" stroke-linecap="round"/>
<line x1="306.4" y1="256.63" x2="308.92" y2="256.51" stroke="#481467" stroke-width="2.8" stroke-linecap="round"/>
<line x1="308.92" y1="256.51" x2="311.32" y2="256.76" stroke="#481668" stroke-width="2.8" stroke-linecap="round"/>
<line x1="311.32" y1="256.76" x2="313.6" y2="257.33" stroke="#481769" stroke-width="2.8" stroke-linecap="round"/>
<line x1="313.6" y1="257.33" x2="315.77" y2="258.15" stroke="#48186a" stroke-width="2.8" stroke-linecap="round"/>
<line x1="315.77" y1="258.15" x2="317.84" y2="259.17" stroke="#481a6c" stroke-width="2.8" stroke-linecap="round"/>
<line x1="317.84" y1="259.17" x2="319.82" y2="260.35" stroke="#481b6d" stroke-width="2.8" stroke-linecap="round"/>
<line x1="319.82" y1="260.35" x2="321.7" y2="261.64" stroke="#481c6e" stroke-width="2.8" stroke-linecap="round"/>
<line x1="321.7" y1="261.64" x2="323.5" y2="263.03" stroke="#481d6f" stroke-width="2.8" stroke-linecap="round"/>
<line x1="323.5" y1="263.03" x2="325.22" y2="264.47" stroke="#481f70" stroke-width="2.8" stroke-linecap="round"/>
<line x1="325.22" y1="264.47" x2="326.87" y2="265.95" stroke="#482071" stroke-width="2.8" stroke-linecap="round"/>
<line x1="326.87" y1="265.95" x2="328.44" y2="267.46" stroke="#482173" stroke-width="2.8" stroke-linecap="round"/>
<line x1="328.44" y1="267.46" x2="329.96" y2="268.96" stroke="#482374" stroke-width="2.8" stroke-linecap="round"/>
<line x1="329.96" y1="268.96" x2="331.41" y2="270.46" stroke="#482475" stroke-width="2.8" stroke-linecap="round"/>
<line x1="331.41" y1="270.46" x2="332.8" y2="271.95" stroke="#482576" stroke-width="2.8" stroke-linecap="round"/>
<line x1="332.8" y1="271.95" x2="334.14" y2="273.41" stroke="#482677" stroke-width="2.8" stroke-linecap="round"/>
<line x1="334.14" y1="273.41" x2="335.43" y2="274.84" stroke="#482878" stroke-width="2.8" stroke-linecap="round"/>
<line x1="335.43" y1="274.84" x2="336.68" y2="276.23" stroke="#482979" stroke-width="2.8" stroke-linecap="round"/>
<line x1="336.68" y1="276.23" x2="337.88" y2="277.59" stroke="#472a7a" stroke-width="2.8" stroke-linecap="round"/>
<line x1="337.88" y1="277.59" x2="339.03" y2="278.91" stroke="#472c7a" stroke-width="2.8" stroke-linecap="round"/>
<line x1="339.03" y1="278.91" x2="340.15" y2="280.19" stroke="#472d7b" stroke-width="2.8" stroke-linecap="round"/>
<line x1="340.15" y1="280.19" x2="341.24" y2="281.43" stroke="#472e7c" stroke-width="2.8" stroke-linecap="round"/>
<line x1="341.24" y1="281.43" x2="342.28" y2="282.63" stroke="#472f7d" stroke-width="2.8" stroke-linecap="round"/>
<line x1="342.28" y1="282.63" x2="343.3" y2="283.78" stroke="#46307e" stroke-width="2.8" stroke-linecap="round"/>
<line x1="343.3" y1="283.78" x2="344.28" y2="284.9" stroke="#46327e" stroke-width="2.8" stroke-linecap="round"/>
<line x1="344.28" y1="284.9" x2="345.24" y2="285.98" stroke="#46337f" stroke-width="2.8" stroke-linecap="round"/>
<line x1="345.24" y1="285.98" x2="346.16" y2="287.01" stroke="#463480" stroke-width="2.8" stroke-linecap="round"/>
<line x1="346.16" y1="287.01" x2="347.06" y2="288.02" stroke="#453581" stroke-width="2.8" stroke-linecap="round"/>
<line x1="347.06" y1="288.02" x2="347.94" y2="288.98" stroke="#453781" stroke-width="2.8" stroke-linecap="round"/>
<line x1="347.94" y1="288.98" x2="348.79" y2="289.92" stroke="#453882" stroke-width="2.8" stroke-linecap="round"/>
<line x1="348.79" y1="289.92" x2="349.62" y2="290.82" stroke="#443a83" stroke-width="2.8" stroke-linecap="round"/>
<line x1="349.62" y1="290.82" x2="350.43" y2="291.69" stroke="#443b84" stroke-width="2.8" stroke-linecap="round"/>
<line x1="350.43" y1="291.69" x2="351.22" y2="292.53" stroke="#433d84" stroke-width="2.8" stroke-linecap="round"/>
<line x1="351.22" y1="292.53" x2="351.99" y2="293.34" stroke="#433e85" stroke-width="2.8" stroke-linecap="round"/>
<line x1="351.99" y1="293.34" x2="352.74" y2="294.12" stroke="#423f85" stroke-width="2.8" stroke-linecap="round"/>
<line x1="352.74" y1="294.12" x2="353.48" y2="294.89" stroke="#424086" stroke-width="2.8" stroke-linecap="round"/>
<line x1="353.48" y1="294.89" x2="354.19" y2="295.62" stroke="#424186" stroke-width="2.8" stroke-linecap="round"/>
<line x1="354.19" y1="295.62" x2="354.9" y2="296.34" stroke="#414287" stroke-width="2.8" stroke-linecap="round"/>
<line x1="354.9" y1="296.34" x2="355.58" y2="297.03" stroke="#414487" stroke-width="2.8" stroke-linecap="round"/>
<line x1="355.58" y1="297.03" x2="356.25" y2="297.7" stroke="#404588" stroke-width="2.8" stroke-linecap="round"/>
<line x1="356.25" y1="297.7" x2="356.91" y2="298.36" stroke="#404688" stroke-width="2.8" stroke-linecap="round"/>
<line x1="356.91" y1="298.36" x2="357.55" y2="298.99" stroke="#3f4788" stroke-width="2.8" stroke-linecap="round"/>
<line x1="357.55" y1="298.99" x2="358.18" y2="299.61" stroke="#3f4889" stroke-width="2.8" stroke-linecap="round"/>
<line x1="358.18" y1="299.61" x2="358.8" y2="300.21" stroke="#3e4989" stroke-width="2.8" stroke-linecap="round"/>
<line x1="358.8" y1="300.21" x2="359.41" y2="300.8" stroke="#3e4a89" stroke-width="2.8" stroke-linecap="round"/>
<line x1="359.41" y1="300.8" x2="360" y2="301.38" stroke="#3e4c8a" stroke-width="2.8" stroke-linecap="round"/>
<line x1="360" y1="301.38" x2="360.58" y2="301.93" stroke="#3d4d8a" stroke-width="2.8" stroke-linecap="round"/>
<line x1="360.58" y1="301.93" x2="361.16" y2="302.48" stroke="#3d4e8a" stroke-width="2.8" stroke-linecap="round"/>
<line x1="361.16" y1="302.48" x2="361.72" y2="303.02" stroke="#3c4f8a" stroke-width="2.8" stroke-linecap="round"/>
<line x1="361.72" y1="303.02" x2="362.27" y2="303.54" stroke="#3c508b" stroke-width="2.8" stroke-linecap="round"/>
<line x1="362.27" y1="303.54" x2="362.81" y2="304.05" stroke="#3b518b" stroke-width="2.8" stroke-linecap="round"/>
<line x1="362.81" y1="304.05" x2="363.34" y2="304.55" stroke="#3b528b" stroke-width="2.8" stroke-linecap="round"/>
<line x1="363.34" y1="304.55" x2="363.86" y2="305.04" stroke="#3a538b" stroke-width="2.8" stroke-linecap="round"/>
<line x1="363.86" y1="305.04" x2="364.37" y2="305.52" stroke="#3a548c" stroke-width="2.8" stroke-linecap="round"/>
<line x1="364.37" y1="305.52" x2="364.88" y2="305.99" stroke="#39558c" stroke-width="2.8" stroke-linecap="round"/>
<line x1="364.88" y1="305.99" x2="365.37" y2="306.46" stroke="#39568c" stroke-width="2.8" stroke-linecap="round"/>
<line x1="365.37" y1="306.46" x2="365.86" y2="306.91" stroke="#38588c" stroke-width="2.8" stroke-linecap="round"/>
<line x1="365.86" y1="306.91" x2="366.34" y2="307.36" stroke="#38598c" stroke-width="2.8" stroke-linecap="round"/>
<line x1="366.34" y1="307.36" x2="366.81" y2="307.8" stroke="#375a8c" stroke-width="2.8" stroke-linecap="round"/>
<line x1="366.81" y1="307.8" x2="367.27" y2="308.23" stroke="#375b8d" stroke-width="2.8" stroke-linecap="round"/>
<line x1="367.27" y1="308.23" x2="367.73" y2="308.65" stroke="#365c8d" stroke-width="2.8" stroke-linecap="round"/>
<line x1="367.73" y1="308.65" x2="368.18" y2="309.07" stroke="#365d8d" stroke-width="2.8" stroke-linecap="round"/>
<line x1="368.18" y1="309.07" x2="368.62" y2="309.48" stroke="#355e8d" stroke-width="2.8" stroke-linecap="round"/>
<line x1="368.62" y1="309.48" x2="369.05" y2="309.88" stroke="#355f8d" stroke-width="2.8" stroke-linecap="round"/>
<line x1="369.05" y1="309.88" x2="369.48" y2="310.28" stroke="#34608d" stroke-width="2.8" stroke-linecap="round"/>
<line x1="369.48" y1="310.28" x2="369.9" y2="310.67" stroke="#34618d" stroke-width="2.8" stroke-linecap="round"/>
<line x1="369.9" y1="310.67" x2="370.31" y2="311.06" stroke="#33628d" stroke-width="2.8" stroke-linecap="round"/>
<line x1="370.31" y1="311.06" x2="370.72" y2="311.44" stroke="#33638d" stroke-width="2.8" stroke-linecap="round"/>
<line x1="370.72" y1="311.44" x2="371.12" y2="311.81" stroke="#32648e" stroke-width="2.8" stroke-linecap="round"/>
<line x1="371.12" y1="311.81" x2="371.52" y2="312.18" stroke="#32658e" stroke-width="2.8" stroke-linecap="round"/>
<line x1="371.52" y1="312.18" x2="371.91" y2="312.54" stroke="#31668e" stroke-width="2.8" stroke-linecap="round"/>
<line x1="371.91" y1="312.54" x2="372.29" y2="312.9" stroke="#31678e" stroke-width="2.8" stroke-linecap="round"/>
<line x1="372.29" y1="312.9" x2="372.67" y2="313.26" stroke="#30698e" stroke-width="2.8" stroke-linecap="round"/>
<line x1="372.67" y1="313.26" x2="373.04" y2="313.61" stroke="#306a8e" stroke-width="2.8" stroke-linecap="round"/>
<line x1="373.04" y1="313.61" x2="373.41" y2="313.95" stroke="#2f6b8e" stroke-width="2.8" stroke-linecap="round"/>
<line x1="373.41" y1="313.95" x2="373.77" y2="314.29" stroke="#2f6c8e" stroke-width="2.8" stroke-linecap="round"/>
<line x1="373.77" y1="314.29" x2="374.13" y2="314.62" stroke="#2e6d8e" stroke-width="2.8" stroke-linecap="round"/>
<line x1="374.13" y1="314.62" x2="374.48" y2="314.95" stroke="#2e6e8e" stroke-width="2.8" stroke-linecap="round"/>
<line x1="374.48" y1="314.95" x2="374.82" y2="315.28" stroke="#2e6f8e" stroke-width="2.8" stroke-linecap="round"/>
<line x1="374.82" y1="315.28" x2="375.17" y2="315.6" stroke="#2d708e" stroke-width="2.8" stroke-linecap="round"/>
<line x1="375.17" y1="315.6" x2="375.5" y2="315.92" stroke="#2d718e" stroke-width="2.8" stroke-linecap="round"/>
<line x1="375.5" y1="315.92" x2="375.83" y2="316.24" stroke="#2c718e" stroke-width="2.8" stroke-linecap="round"/>
<line x1="375.83" y1="316.24" x2="376.16" y2="316.54" stroke="#2c728e" stroke-width="2.8" stroke-linecap="round"/>
<line x1="376.16" y1="316.54" x2="376.48" y2="316.85" stroke="#2c738e" stroke-width="2.8" stroke-linecap="round"/>
<line x1="376.48" y1="316.85" x2="376.8" y2="317.15" stroke="#2b748e" stroke-width="2.8" stroke-linecap="round"/>
<line x1="376.8" y1="317.15" x2="377.11" y2="317.45" stroke="#2b758e" stroke-width="2.8" stroke-linecap="round"/>
<line x1="377.11" y1="317.45" x2="377.42" y2="317.75" stroke="#2a768e" stroke-width="2.8" stroke-linecap="round"/>
<line x1="377.42" y1="317.75" x2="377.73" y2="318.04" stroke="#2a778e" stroke-width="2.8" stroke-linecap="round"/>
<line x1="377.73" y1="318.04" x2="378.03" y2="318.32" stroke="#2a788e" stroke-width="2.8" stroke-linecap="round"/>
<line x1="378.03" y1="318.32" x2="378.32" y2="318.61" stroke="#29798e" stroke-width="2.8" stroke-linecap="round"/>
<line x1="378.32" y1="318.61" x2="378.61" y2="318.89" stroke="#297a8e" stroke-width="2.8" stroke-linecap="round"/>
<line x1="378.61" y1="318.89" x2="378.9" y2="319.16" stroke="#297b8e" stroke-width="2.8" stroke-linecap="round"/>
<line x1="378.9" y1="319.16" x2="379.19" y2="319.44" stroke="#287c8e" stroke-width="2.8" stroke-linecap="round"/>
<line x1="379.19" y1="319.44" x2="379.47" y2="319.71" stroke="#287d8e" stroke-width="2.8" stroke-linecap="round"/>
<line x1="379.47" y1="319.71" x2="379.74" y2="319.98" stroke="#277e8e" stroke-width="2.8" stroke-linecap="round"/>
<line x1="379.74" y1="319.98" x2="380.02" y2="320.24" stroke="#277f8e" stroke-width="2.8" stroke-linecap="round"/>
<line x1="380.02" y1="320.24" x2="380.29" y2="320.5" stroke="#27808e" stroke-width="2.8" stroke-linecap="round"/>
<line x1="380.29" y1="320.5" x2="380.55" y2="320.76" stroke="#26818e" stroke-width="2.8" stroke-linecap="round"/>
<line x1="380.55" y1="320.76" x2="380.81" y2="321.01" stroke="#26828e" stroke-width="2.8" stroke-linecap="round"/>
<line x1="380.81" y1="321.01" x2="381.07" y2="321.26" stroke="#26828e" stroke-width="2.8" stroke-linecap="round"/>
<line x1="381.07" y1="321.26" x2="381.33" y2="321.51" stroke="#25838e" stroke-width="2.8" stroke-linecap="round"/>
<line x1="381.33" y1="321.51" x2="381.58" y2="321.76" stroke="#25848e" stroke-width="2.8" stroke-linecap="round"/>
<line x1="381.58" y1="321.76" x2="381.83" y2="322" stroke="#25858e" stroke-width="2.8" stroke-linecap="round"/>
<line x1="381.83" y1="322" x2="382.07" y2="322.24" stroke="#24868e" stroke-width="2.8" stroke-linecap="round"/>
<line x1="382.07" y1="322.24" x2="382.32" y2="322.47" stroke="#24878e" stroke-width="2.8" stroke-linecap="round"/>
<line x1="382.32" y1="322.47" x2="382.55" y2="322.71" stroke="#23888e" stroke-width="2.8" stroke-linecap="round"/>
<line x1="382.55" y1="322.71" x2="382.79" y2="322.94" stroke="#23898e" stroke-width="2.8" stroke-linecap="round"/>
<line x1="382.79" y1="322.94" x2="383.02" y2="323.17" stroke="#238a8d" stroke-width="2.8" stroke-linecap="round"/>
<line x1="383.02" y1="323.17" x2="383.25" y2="323.39" stroke="#228b8d" stroke-width="2.8" stroke-linecap="round"/>
<line x1="383.25" y1="323.39" x2="383.48" y2="323.62" stroke="#228c8d" stroke-width="2.8" stroke-linecap="round"/>
<line x1="383.48" y1="323.62" x2="383.7" y2="323.84" stroke="#228d8d" stroke-width="2.8" stroke-linecap="round"/>
<line x1="383.7" y1="323.84" x2="383.92" y2="324.05" stroke="#218e8d" stroke-width="2.8" stroke-linecap="round"/>
<line x1="383.92" y1="324.05" x2="384.14" y2="324.27" stroke="#218f8d" stroke-width="2.8" stroke-linecap="round"/>
<line x1="384.14" y1="324.27" x2="384.36" y2="324.48" stroke="#21918c" stroke-width="2.8" stroke-linecap="round"/>
<line x1="384.36" y1="324.48" x2="384.57" y2="324.69" stroke="#20928c" stroke-width="2.8" stroke-linecap="round"/>
<line x1="384.57" y1="324.69" x2="384.78" y2="324.9" stroke="#20928c" stroke-width="2.8" stroke-linecap="round"/>
<line x1="384.78" y1="324.9" x2="384.99" y2="325.11" stroke="#20938c" stroke-width="2.8" stroke-linecap="round"/>
<line x1="384.99" y1="325.11" x2="385.19" y2="325.31" stroke="#1f948c" stroke-width="2.8" stroke-linecap="round"/>
<line x1="385.19" y1="325.31" x2="385.39" y2="325.51" stroke="#1f958b" stroke-width="2.8" stroke-linecap="round"/>
<line x1="385.39" y1="325.51" x2="385.59" y2="325.71" stroke="#1f968b" stroke-width="2.8" stroke-linecap="round"/>
<line x1="385.59" y1="325.71" x2="385.79" y2="325.91" stroke="#1f978b" stroke-width="2.8" stroke-linecap="round"/>
<line x1="385.79" y1="325.91" x2="385.98" y2="326.1" stroke="#1f988b" stroke-width="2.8" stroke-linecap="round"/>
<line x1="385.98" y1="326.1" x2="386.18" y2="326.29" stroke="#1f998a" stroke-width="2.8" stroke-linecap="round"/>
<line x1="386.18" y1="326.29" x2="386.37" y2="326.48" stroke="#1f9a8a" stroke-width="2.8" stroke-linecap="round"/>
<line x1="386.37" y1="326.48" x2="386.55" y2="326.67" stroke="#1e9b8a" stroke-width="2.8" stroke-linecap="round"/>
<line x1="386.55" y1="326.67" x2="386.74" y2="326.85" stroke="#1e9c89" stroke-width="2.8" stroke-linecap="round"/>
<line x1="386.74" y1="326.85" x2="386.92" y2="327.04" stroke="#1e9d89" stroke-width="2.8" stroke-linecap="round"/>
<line x1="386.92" y1="327.04" x2="387.1" y2="327.22" stroke="#1f9e89" stroke-width="2.8" stroke-linecap="round"/>
<line x1="387.1" y1="327.22" x2="387.28" y2="327.4" stroke="#1f9f88" stroke-width="2.8" stroke-linecap="round"/>
<line x1="387.28" y1="327.4" x2="387.45" y2="327.57" stroke="#1fa088" stroke-width="2.8" stroke-linecap="round"/>
<line x1="387.45" y1="327.57" x2="387.63" y2="327.75" stroke="#1fa188" stroke-width="2.8" stroke-linecap="round"/>
<line x1="387.63" y1="327.75" x2="387.8" y2="327.92" stroke="#1fa187" stroke-width="2.8" stroke-linecap="round"/>
<line x1="387.8" y1="327.92" x2="387.97" y2="328.09" stroke="#1fa287" stroke-width="2.8" stroke-linecap="round"/>
<line x1="387.97" y1="328.09" x2="388.14" y2="328.26" stroke="#20a386" stroke-width="2.8" stroke-linecap="round"/>
<line x1="388.14" y1="328.26" x2="388.3" y2="328.43" stroke="#20a486" stroke-width="2.8" stroke-linecap="round"/>
<line x1="388.3" y1="328.43" x2="388.47" y2="328.59" stroke="#21a585" stroke-width="2.8" stroke-linecap="round"/>
<line x1="388.47" y1="328.59" x2="388.63" y2="328.76" stroke="#21a685" stroke-width="2.8" stroke-linecap="round"/>
<line x1="388.63" y1="328.76" x2="388.79" y2="328.92" stroke="#22a785" stroke-width="2.8" stroke-linecap="round"/>
<line x1="388.79" y1="328.92" x2="388.94" y2="329.08" stroke="#22a884" stroke-width="2.8" stroke-linecap="round"/>
<line x1="388.94" y1="329.08" x2="389.1" y2="329.23" stroke="#23a983" stroke-width="2.8" stroke-linecap="round"/>
<line x1="389.1" y1="329.23" x2="389.25" y2="329.39" stroke="#24aa83" stroke-width="2.8" stroke-linecap="round"/>
<line x1="389.25" y1="329.39" x2="389.41" y2="329.54" stroke="#25ab82" stroke-width="2.8" stroke-linecap="round"/>
<line x1="389.41" y1="329.54" x2="389.56" y2="329.7" stroke="#25ac82" stroke-width="2.8" stroke-linecap="round"/>
<line x1="389.56" y1="329.7" x2="389.7" y2="329.85" stroke="#26ad81" stroke-width="2.8" stroke-linecap="round"/>
<line x1="389.7" y1="329.85" x2="389.85" y2="330" stroke="#27ad81" stroke-width="2.8" stroke-linecap="round"/>
<line x1="389.85" y1="330" x2="389.99" y2="330.14" stroke="#28ae80" stroke-width="2.8" stroke-linecap="round"/>
<line x1="389.99" y1="330.14" x2="390.14" y2="330.29" stroke="#29af7f" stroke-width="2.8" stroke-linecap="round"/>
<line x1="390.14" y1="330.29" x2="390.28" y2="330.43" stroke="#2ab07f" stroke-width="2.8" stroke-linecap="round"/>
<line x1="390.28" y1="330.43" x2="390.42" y2="330.58" stroke="#2cb17e" stroke-width="2.8" stroke-linecap="round"/>
<line x1="390.42" y1="330.58" x2="390.56" y2="330.72" stroke="#2db27d" stroke-width="2.8" stroke-linecap="round"/>
<line x1="390.56" y1="330.72" x2="390.69" y2="330.86" stroke="#2eb37c" stroke-width="2.8" stroke-linecap="round"/>
<line x1="390.69" y1="330.86" x2="390.83" y2="330.99" stroke="#2fb47c" stroke-width="2.8" stroke-linecap="round"/>
<line x1="390.83" y1="330.99" x2="390.96" y2="331.13" stroke="#31b57b" stroke-width="2.8" stroke-linecap="round"/>
<line x1="390.96" y1="331.13" x2="391.09" y2="331.26" stroke="#32b67a" stroke-width="2.8" stroke-linecap="round"/>
<line x1="391.09" y1="331.26" x2="391.22" y2="331.4" stroke="#34b679" stroke-width="2.8" stroke-linecap="round"/>
<line x1="391.22" y1="331.4" x2="391.35" y2="331.53" stroke="#37b878" stroke-width="2.8" stroke-linecap="round"/>
<line x1="391.35" y1="331.53" x2="391.48" y2="331.66" stroke="#38b977" stroke-width="2.8" stroke-linecap="round"/>
<line x1="391.48" y1="331.66" x2="391.6" y2="331.79" stroke="#3aba76" stroke-width="2.8" stroke-linecap="round"/>
<line x1="391.6" y1="331.79" x2="391.73" y2="331.91" stroke="#3bbb75" stroke-width="2.8" stroke-linecap="round"/>
<line x1="391.73" y1="331.91" x2="391.85" y2="332.04" stroke="#3dbc74" stroke-width="2.8" stroke-linecap="round"/>
<line x1="391.85" y1="332.04" x2="391.97" y2="332.16" stroke="#3fbc73" stroke-width="2.8" stroke-linecap="round"/>
<line x1="391.97" y1="332.16" x2="392.09" y2="332.29" stroke="#40bd72" stroke-width="2.8" stroke-linecap="round"/>
<line x1="392.09" y1="332.29" x2="392.21" y2="332.41" stroke="#42be71" stroke-width="2.8" stroke-linecap="round"/>
<line x1="392.21" y1="332.41" x2="392.32" y2="332.53" stroke="#44bf70" stroke-width="2.8" stroke-linecap="round"/>
<line x1="392.32" y1="332.53" x2="392.44" y2="332.65" stroke="#46c06f" stroke-width="2.8" stroke-linecap="round"/>
<line x1="392.44" y1="332.65" x2="392.55" y2="332.77" stroke="#48c16e" stroke-width="2.8" stroke-linecap="round"/>
<line x1="392.55" y1="332.77" x2="392.67" y2="332.88" stroke="#4ac16d" stroke-width="2.8" stroke-linecap="round"/>
<line x1="392.67" y1="332.88" x2="392.78" y2="333" stroke="#4cc26c" stroke-width="2.8" stroke-linecap="round"/>
<line x1="392.78" y1="333" x2="392.89" y2="333.11" stroke="#4ec36b" stroke-width="2.8" stroke-linecap="round"/>
<line x1="392.89" y1="333.11" x2="393" y2="333.22" stroke="#50c46a" stroke-width="2.8" stroke-linecap="round"/>
<line x1="393" y1="333.22" x2="393.1" y2="333.33" stroke="#52c569" stroke-width="2.8" stroke-linecap="round"/>
<line x1="393.1" y1="333.33" x2="393.21" y2="333.45" stroke="#54c568" stroke-width="2.8" stroke-linecap="round"/>
<line x1="393.21" y1="333.45" x2="393.31" y2="333.55" stroke="#56c667" stroke-width="2.8" stroke-linecap="round"/>
<line x1="393.31" y1="333.55" x2="393.42" y2="333.66" stroke="#58c765" stroke-width="2.8" stroke-linecap="round"/>
<line x1="393.42" y1="333.66" x2="393.52" y2="333.77" stroke="#5ac864" stroke-width="2.8" stroke-linecap="round"/>
<line x1="393.52" y1="333.77" x2="393.62" y2="333.87" stroke="#5cc863" stroke-width="2.8" stroke-linecap="round"/>
<line x1="393.62" y1="333.87" x2="393.72" y2="333.98" stroke="#5ec962" stroke-width="2.8" stroke-linecap="round"/>
<line x1="393.72" y1="333.98" x2="393.82" y2="334.08" stroke="#60ca60" stroke-width="2.8" stroke-linecap="round"/>
<line x1="393.82" y1="334.08" x2="393.92" y2="334.18" stroke="#63cb5f" stroke-width="2.8" stroke-linecap="round"/>
<line x1="393.92" y1="334.18" x2="394.02" y2="334.28" stroke="#65cb5e" stroke-width="2.8" stroke-linecap="round"/>
<line x1="394.02" y1="334.28" x2="394.11" y2="334.38" stroke="#67cc5c" stroke-width="2.8" stroke-linecap="round"/>
<line x1="394.11" y1="334.38" x2="394.21" y2="334.48" stroke="#69cd5b" stroke-width="2.8" stroke-linecap="round"/>
<line x1="394.21" y1="334.48" x2="394.3" y2="334.58" stroke="#6ccd5a" stroke-width="2.8" stroke-linecap="round"/>
<line x1="394.3" y1="334.58" x2="394.39" y2="334.67" stroke="#6ece58" stroke-width="2.8" stroke-linecap="round"/>
<line x1="394.39" y1="334.67" x2="394.48" y2="334.77" stroke="#70cf57" stroke-width="2.8" stroke-linecap="round"/>
<line x1="394.48" y1="334.77" x2="394.57" y2="334.86" stroke="#73d056" stroke-width="2.8" stroke-linecap="round"/>
<line x1="394.57" y1="334.86" x2="394.66" y2="334.96" stroke="#75d054" stroke-width="2.8" stroke-linecap="round"/>
<line x1="394.66" y1="334.96" x2="394.75" y2="335.05" stroke="#77d153" stroke-width="2.8" stroke-linecap="round"/>
<line x1="394.75" y1="335.05" x2="394.84" y2="335.14" stroke="#7ad151" stroke-width="2.8" stroke-linecap="round"/>
<line x1="394.84" y1="335.14" x2="394.93" y2="335.23" stroke="#7cd250" stroke-width="2.8" stroke-linecap="round"/>
<line x1="394.93" y1="335.23" x2="395.01" y2="335.32" stroke="#7fd34e" stroke-width="2.8" stroke-linecap="round"/>
<line x1="395.01" y1="335.32" x2="395.09" y2="335.41" stroke="#81d34d" stroke-width="2.8" stroke-linecap="round"/>
<line x1="395.09" y1="335.41" x2="395.18" y2="335.49" stroke="#84d44b" stroke-width="2.8" stroke-linecap="round"/>
<line x1="395.18" y1="335.49" x2="395.26" y2="335.58" stroke="#86d549" stroke-width="2.8" stroke-linecap="round"/>
<line x1="395.26" y1="335.58" x2="395.34" y2="335.67" stroke="#89d548" stroke-width="2.8" stroke-linecap="round"/>
<line x1="395.34" y1="335.67" x2="395.42" y2="335.75" stroke="#8bd646" stroke-width="2.8" stroke-linecap="round"/>
<line x1="395.42" y1="335.75" x2="395.5" y2="335.83" stroke="#8ed645" stroke-width="2.8" stroke-linecap="round"/>
<line x1="395.5" y1="335.83" x2="395.58" y2="335.92" stroke="#93d741" stroke-width="2.8" stroke-linecap="round"/>
<line x1="395.58" y1="335.92" x2="395.66" y2="336" stroke="#95d840" stroke-width="2.8" stroke-linecap="round"/>
<line x1="395.66" y1="336" x2="395.74" y2="336.08" stroke="#98d83e" stroke-width="2.8" stroke-linecap="round"/>
<line x1="395.74" y1="336.08" x2="395.81" y2="336.16" stroke="#9bd93c" stroke-width="2.8" stroke-linecap="round"/>
<line x1="395.81" y1="336.16" x2="395.89" y2="336.24" stroke="#9dd93b" stroke-width="2.8" stroke-linecap="round"/>
<line x1="395.89" y1="336.24" x2="395.96" y2="336.31" stroke="#a0da39" stroke-width="2.8" stroke-linecap="round"/>
<line x1="395.96" y1="336.31" x2="396.04" y2="336.39" stroke="#a2da37" stroke-width="2.8" stroke-linecap="round"/>
<line x1="396.04" y1="336.39" x2="396.11" y2="336.47" stroke="#a5db36" stroke-width="2.8" stroke-linecap="round"/>
<line x1="396.11" y1="336.47" x2="396.18" y2="336.54" stroke="#a8db34" stroke-width="2.8" stroke-linecap="round"/>
<line x1="396.18" y1="336.54" x2="396.25" y2="336.62" stroke="#aadc32" stroke-width="2.8" stroke-linecap="round"/>
<line x1="396.25" y1="336.62" x2="396.32" y2="336.69" stroke="#addc30" stroke-width="2.8" stroke-linecap="round"/>
<line x1="396.32" y1="336.69" x2="396.39" y2="336.77" stroke="#b0dd2f" stroke-width="2.8" stroke-linecap="round"/>
<line x1="396.39" y1="336.77" x2="396.46" y2="336.84" stroke="#b2dd2d" stroke-width="2.8" stroke-linecap="round"/>
<line x1="396.46" y1="336.84" x2="396.53" y2="336.91" stroke="#b5de2b" stroke-width="2.8" stroke-linecap="round"/>
<line x1="396.53" y1="336.91" x2="396.59" y2="336.98" stroke="#b8de29" stroke-width="2.8" stroke-linecap="round"/>
<line x1="396.59" y1="336.98" x2="396.66" y2="337.05" stroke="#bade28" stroke-width="2.8" stroke-linecap="round"/>
<line x1="396.66" y1="337.05" x2="396.73" y2="337.12" stroke="#bddf26" stroke-width="2.8" stroke-linecap="round"/>
<line x1="396.73" y1="337.12" x2="396.79" y2="337.19" stroke="#c0df25" stroke-width="2.8" stroke-linecap="round"/>
<line x1="396.79" y1="337.19" x2="396.86" y2="337.26" stroke="#c2df23" stroke-width="2.8" stroke-linecap="round"/>
<line x1="396.86" y1="337.26" x2="396.92" y2="337.32" stroke="#c5e021" stroke-width="2.8" stroke-linecap="round"/>
<line x1="396.92" y1="337.32" x2="396.98" y2="337.39" stroke="#c8e020" stroke-width="2.8" stroke-linecap="round"/>
<line x1="396.98" y1="337.39" x2="397.04" y2="337.45" stroke="#cae11f" stroke-width="2.8" stroke-linecap="round"/>
<line x1="397.04" y1="337.45" x2="397.11" y2="337.52" stroke="#cde11d" stroke-width="2.8" stroke-linecap="round"/>
<line x1="397.11" y1="337.52" x2="397.17" y2="337.58" stroke="#d0e11c" stroke-width="2.8" stroke-linecap="round"/>
<line x1="397.17" y1="337.58" x2="397.23" y2="337.65" stroke="#d2e21b" stroke-width="2.8" stroke-linecap="round"/>
<line x1="397.23" y1="337.65" x2="397.29" y2="337.71" stroke="#d5e21a" stroke-width="2.8" stroke-linecap="round"/>
<line x1="397.29" y1="337.71" x2="397.34" y2="337.77" stroke="#d8e219" stroke-width="2.8" stroke-linecap="round"/>
<line x1="397.34" y1="337.77" x2="397.4" y2="337.83" stroke="#dae319" stroke-width="2.8" stroke-linecap="round"/>
<line x1="397.4" y1="337.83" x2="397.46" y2="337.89" stroke="#dde318" stroke-width="2.8" stroke-linecap="round"/>
<line x1="397.46" y1="337.89" x2="397.52" y2="337.95" stroke="#dfe318" stroke-width="2.8" stroke-linecap="round"/>
<line x1="397.52" y1="337.95" x2="397.57" y2="338.01" stroke="#e2e418" stroke-width="2.8" stroke-linecap="round"/>
<line x1="397.57" y1="338.01" x2="397.63" y2="338.07" stroke="#e5e419" stroke-width="2.8" stroke-linecap="round"/>
<line x1="397.63" y1="338.07" x2="397.68" y2="338.13" stroke="#e7e419" stroke-width="2.8" stroke-linecap="round"/>
<line x1="397.68" y1="338.13" x2="397.74" y2="338.19" stroke="#eae51a" stroke-width="2.8" stroke-linecap="round"/>
<line x1="397.74" y1="338.19" x2="397.79" y2="338.24" stroke="#ece51b" stroke-width="2.8" stroke-linecap="round"/>
<line x1="397.79" y1="338.24" x2="397.84" y2="338.3" stroke="#efe51c" stroke-width="2.8" stroke-linecap="round"/>
<line x1="397.84" y1="338.3" x2="397.9" y2="338.36" stroke="#f1e51d" stroke-width="2.8" stroke-linecap="round"/>
<line x1="397.9" y1="338.36" x2="397.95" y2="338.41" stroke="#f4e61e" stroke-width="2.8" stroke-linecap="round"/>
<line x1="397.95" y1="338.41" x2="398" y2="338.47" stroke="#f6e620" stroke-width="2.8" stroke-linecap="round"/>
<line x1="398" y1="338.47" x2="398.05" y2="338.52" stroke="#f8e621" stroke-width="2.8" stroke-linecap="round"/>
<line x1="398.05" y1="338.52" x2="398.1" y2="338.57" stroke="#fbe723" stroke-width="2.8" stroke-linecap="round"/>
<polyline points="259,343.5 259.72,340.47 260.44,337.52 261.17,334.67 261.89,331.9 262.61,329.21 263.33,326.6 264.05,324.07 264.78,321.61 265.5,319.23 266.22,316.92 266.94,314.68 267.67,312.51 268.39,310.41 269.11,308.37 269.83,306.39 270.55,304.47 271.28,302.61 272,300.81 272.72,299.06 273.44,297.37 274.16,295.74 274.89,294.15 275.61,292.62 276.33,291.14 277.05,289.7 277.77,288.32 278.5,286.98 279.22,285.68 279.94,284.43 280.66,283.22 281.39,282.05 282.11,280.93 282.83,279.84 283.55,278.8 284.27,277.79 285,276.82 285.72,275.89 286.44,274.99 287.16,274.13 287.88,273.3 288.61,272.51 289.33,271.75 290.05,271.02 290.77,270.32 291.49,269.66 292.22,269.02 292.94,268.42 293.66,267.84 294.38,267.29 295.11,266.77 295.83,266.28 296.55,265.81 297.27,265.37 297.99,264.96 298.72,264.57 299.44,264.21 300.16,263.87 300.88,263.55 301.6,263.26 302.33,262.99 303.05,262.74 303.77,262.52 304.49,262.32 305.22,262.14 305.94,261.98 306.66,261.84 307.38,261.72 308.1,261.62 308.83,261.54 309.55,261.47 310.27,261.43 310.99,261.41 311.71,261.4 312.44,261.41 313.16,261.44 313.88,261.49 314.6,261.55 315.32,261.63 316.05,261.73 316.77,261.84 317.49,261.97 318.21,262.11 318.94,262.27 319.66,262.45 320.38,262.63 321.1,262.84 321.82,263.06 322.55,263.29 323.27,263.53 323.99,263.79 324.71,264.07 325.43,264.35 326.16,264.65 326.88,264.96 327.6,265.29 328.32,265.63 329.04,265.97 329.77,266.34 330.49,266.71 331.21,267.09 331.93,267.49 332.66,267.9 333.38,268.32 334.1,268.75 334.82,269.19 335.54,269.64 336.27,270.1 336.99,270.57 337.71,271.06 338.43,271.55 339.15,272.05 339.88,272.56 340.6,273.09 341.32,273.62 342.04,274.16 342.76,274.71 343.49,275.27 344.21,275.84 344.93,276.42 345.65,277 346.38,277.6 347.1,278.2 347.82,278.81 348.54,279.43 349.26,280.06 349.99,280.7 350.71,281.34 351.43,281.99 352.15,282.65 352.87,283.32 353.6,284 354.32,284.68 355.04,285.37 355.76,286.07 356.48,286.77 357.21,287.48 357.93,288.2 358.65,288.93 359.37,289.66 360.1,290.4 360.82,291.14 361.54,291.9 362.26,292.66 362.98,293.42 363.71,294.19 364.43,294.97 365.15,295.75 365.87,296.54 366.59,297.34 367.32,298.14 368.04,298.95 368.76,299.76 369.48,300.58 370.21,301.41 370.93,302.24 371.65,303.08 372.37,303.92 373.09,304.77 373.82,305.62 374.54,306.48 375.26,307.34 375.98,308.21 376.7,309.08 377.43,309.96 378.15,310.84 378.87,311.73 379.59,312.63 380.31,313.52 381.04,314.43 381.76,315.33 382.48,316.25 383.2,317.16 383.93,318.09 384.65,319.01 385.37,319.94 386.09,320.88 386.81,321.82 387.54,322.76 388.26,323.71 388.98,324.66 389.7,325.62 390.42,326.58 391.15,327.54 391.87,328.51 392.59,329.48 393.31,330.46 394.03,331.44 394.76,332.42 395.48,333.41 396.2,334.41 396.92,335.4 397.65,336.4 398.37,337.4 399.09,338.41 399.81,339.42 400.53,340.44 401.26,341.45 401.98,342.48 402.7,343.5" fill="none" stroke="#000" stroke-width="2.8" stroke-linejoin="round" stroke-linecap="butt" stroke-dasharray="9 4"/>
<rect x="259" y="190.3" width="143.7" height="153.2" fill="none" stroke="#7a7a7a" stroke-width="1"/>
<line x1="259" y1="343.5" x2="259" y2="345.7" stroke="#7a7a7a" stroke-width="1"/>
<text x="259" y="357.3" font-size="11.7" text-anchor="middle" fill="#1a1a1a" textLength="26.05" lengthAdjust="spacingAndGlyphs">0.00</text>
<line x1="294.93" y1="343.5" x2="294.93" y2="345.7" stroke="#7a7a7a" stroke-width="1"/>
<text x="294.93" y="357.3" font-size="11.7" text-anchor="middle" fill="#1a1a1a" textLength="26.05" lengthAdjust="spacingAndGlyphs">0.25</text>
<line x1="330.85" y1="343.5" x2="330.85" y2="345.7" stroke="#7a7a7a" stroke-width="1"/>
<text x="330.85" y="357.3" font-size="11.7" text-anchor="middle" fill="#1a1a1a" textLength="26.05" lengthAdjust="spacingAndGlyphs">0.50</text>
<line x1="366.77" y1="343.5" x2="366.77" y2="345.7" stroke="#7a7a7a" stroke-width="1"/>
<text x="366.77" y="357.3" font-size="11.7" text-anchor="middle" fill="#1a1a1a" textLength="26.05" lengthAdjust="spacingAndGlyphs">0.75</text>
<line x1="402.7" y1="343.5" x2="402.7" y2="345.7" stroke="#7a7a7a" stroke-width="1"/>
<text x="402.7" y="357.3" font-size="11.7" text-anchor="middle" fill="#1a1a1a" textLength="26.05" lengthAdjust="spacingAndGlyphs">1.00</text>
<line x1="256.8" y1="343.5" x2="259" y2="343.5" stroke="#7a7a7a" stroke-width="1"/>
<text x="254" y="347.8" font-size="11.7" text-anchor="end" fill="#1a1a1a" textLength="26.05" lengthAdjust="spacingAndGlyphs">0.00</text>
<line x1="256.8" y1="312.86" x2="259" y2="312.86" stroke="#7a7a7a" stroke-width="1"/>
<text x="254" y="317.16" font-size="11.7" text-anchor="end" fill="#1a1a1a" textLength="26.05" lengthAdjust="spacingAndGlyphs">0.05</text>
<line x1="256.8" y1="282.22" x2="259" y2="282.22" stroke="#7a7a7a" stroke-width="1"/>
<text x="254" y="286.52" font-size="11.7" text-anchor="end" fill="#1a1a1a" textLength="26.05" lengthAdjust="spacingAndGlyphs">0.10</text>
<line x1="256.8" y1="251.58" x2="259" y2="251.58" stroke="#7a7a7a" stroke-width="1"/>
<text x="254" y="255.88" font-size="11.7" text-anchor="end" fill="#1a1a1a" textLength="26.05" lengthAdjust="spacingAndGlyphs">0.15</text>
<line x1="256.8" y1="220.94" x2="259" y2="220.94" stroke="#7a7a7a" stroke-width="1"/>
<text x="254" y="225.24" font-size="11.7" text-anchor="end" fill="#1a1a1a" textLength="26.05" lengthAdjust="spacingAndGlyphs">0.20</text>
<line x1="256.8" y1="190.3" x2="259" y2="190.3" stroke="#7a7a7a" stroke-width="1"/>
<text x="254" y="194.6" font-size="11.7" text-anchor="end" fill="#1a1a1a" textLength="26.05" lengthAdjust="spacingAndGlyphs">0.25</text>
<g transform="translate(330.8 371)">
<text x="-30.03" y="0" font-size="11.7" fill="#1a1a1a" textLength="52.35" lengthAdjust="spacingAndGlyphs">Velocity,&#160;</text>
<text x="22.31" y="0" font-size="11.7" fill="#1a1a1a" font-style="italic" textLength="7.72" lengthAdjust="spacingAndGlyphs">V</text>
</g>
<g transform="translate(223.3 268) rotate(-90)">
<text x="-27.4" y="0" font-size="11.7" fill="#1a1a1a" textLength="43.23" lengthAdjust="spacingAndGlyphs">Power,&#160;</text>
<text x="15.83" y="0" font-size="11.7" fill="#1a1a1a" font-style="italic" textLength="11.57" lengthAdjust="spacingAndGlyphs">W</text>
<circle cx="23" cy="-11.58" r="0.7" fill="#1a1a1a"/>
</g>
<rect x="297.8" y="194.8" width="100" height="28.1" rx="2" fill="#fff" fill-opacity="0.8" stroke="#d0d0d0" stroke-width="0.8"/>
<line x1="301" y1="202.1" x2="319.2" y2="202.1" stroke="#000" stroke-width="2.8" stroke-dasharray="9 4"/>
<line x1="301" y1="215.4" x2="319.2" y2="215.4" stroke="#3b7dbf" stroke-width="2.8"/>
<text x="326.6" y="205.6" font-size="10" text-anchor="start" fill="#1a1a1a" textLength="68.5" lengthAdjust="spacingAndGlyphs">Hill Model, <tspan font-style="italic">α</tspan>=2</text>
<text x="326.6" y="218.9" font-size="10" text-anchor="start" fill="#1a1a1a" textLength="62" lengthAdjust="spacingAndGlyphs">2-State Model</text>
<defs><linearGradient id="vir" x1="0" y1="0" x2="0" y2="1"><stop offset="0.00" stop-color="#fde725"/><stop offset="0.05" stop-color="#dfe318"/><stop offset="0.10" stop-color="#bddf26"/><stop offset="0.15" stop-color="#9bd93c"/><stop offset="0.20" stop-color="#7ad151"/><stop offset="0.25" stop-color="#5ec962"/><stop offset="0.30" stop-color="#44bf70"/><stop offset="0.35" stop-color="#2fb47c"/><stop offset="0.40" stop-color="#22a884"/><stop offset="0.45" stop-color="#1e9c89"/><stop offset="0.50" stop-color="#21918c"/><stop offset="0.55" stop-color="#25848e"/><stop offset="0.60" stop-color="#2a788e"/><stop offset="0.65" stop-color="#2f6c8e"/><stop offset="0.70" stop-color="#355f8d"/><stop offset="0.75" stop-color="#3b528b"/><stop offset="0.80" stop-color="#414487"/><stop offset="0.85" stop-color="#463480"/><stop offset="0.90" stop-color="#482475"/><stop offset="0.95" stop-color="#471365"/><stop offset="1.00" stop-color="#440154"/></linearGradient></defs>
<rect x="426.8" y="190.2" width="8" height="153.4" fill="url(#vir)" stroke="#595959" stroke-width="0.8"/>
<line x1="434.8" y1="343.6" x2="436.9" y2="343.6" stroke="#7a7a7a" stroke-width="1"/>
<text x="439.3" y="347.9" font-size="11.7" text-anchor="start" fill="#1a1a1a" textLength="7.44" lengthAdjust="spacingAndGlyphs">0</text>
<line x1="434.8" y1="312.92" x2="436.9" y2="312.92" stroke="#7a7a7a" stroke-width="1"/>
<text x="439.3" y="317.22" font-size="11.7" text-anchor="start" fill="#1a1a1a" textLength="7.44" lengthAdjust="spacingAndGlyphs">2</text>
<line x1="434.8" y1="282.24" x2="436.9" y2="282.24" stroke="#7a7a7a" stroke-width="1"/>
<text x="439.3" y="286.54" font-size="11.7" text-anchor="start" fill="#1a1a1a" textLength="7.44" lengthAdjust="spacingAndGlyphs">4</text>
<line x1="434.8" y1="251.56" x2="436.9" y2="251.56" stroke="#7a7a7a" stroke-width="1"/>
<text x="439.3" y="255.86" font-size="11.7" text-anchor="start" fill="#1a1a1a" textLength="7.44" lengthAdjust="spacingAndGlyphs">6</text>
<line x1="434.8" y1="220.88" x2="436.9" y2="220.88" stroke="#7a7a7a" stroke-width="1"/>
<text x="439.3" y="225.18" font-size="11.7" text-anchor="start" fill="#1a1a1a" textLength="7.44" lengthAdjust="spacingAndGlyphs">8</text>
<line x1="434.8" y1="190.2" x2="436.9" y2="190.2" stroke="#7a7a7a" stroke-width="1"/>
<text x="439.3" y="194.5" font-size="11.7" text-anchor="start" fill="#1a1a1a" textLength="14.89" lengthAdjust="spacingAndGlyphs">10</text>
<g transform="translate(463.6 266.7) rotate(-90)">
<text x="-20.92" y="0" font-size="11.7" fill="#1a1a1a" textLength="34.97" lengthAdjust="spacingAndGlyphs">Time,&#160;</text>
<text x="14.06" y="0" font-size="11.7" fill="#1a1a1a" font-style="italic" textLength="6.86" lengthAdjust="spacingAndGlyphs">T</text>
</g>
<polyline points="526.13,33.52 526.86,34.81 527.59,36.45 528.33,38.38 529.06,40.54 529.79,42.88 530.52,45.34 531.26,47.9 531.99,50.51 532.72,53.13 533.45,55.74 534.19,58.32 534.92,60.84 535.65,63.29 536.39,65.66 537.12,67.93 537.85,70.11 538.58,72.19 539.32,74.16 540.05,76.02 540.78,77.79 541.51,79.45 542.25,81.01 542.98,82.47 543.71,83.85 544.45,85.13 545.18,86.34 545.91,87.46 546.64,88.51 547.38,89.49 548.11,90.4 548.84,91.25 549.57,92.05 550.31,92.79 551.04,93.48 551.77,94.13 552.51,94.74 553.24,95.3 553.97,95.83 554.7,96.33 555.44,96.79 556.17,97.23 556.9,97.64 557.63,98.02 558.37,98.38 559.1,98.73 559.83,99.05 560.57,99.35 561.3,99.64 562.03,99.92 562.76,100.18 563.5,100.42 564.23,100.66 564.96,100.88 565.69,101.1 566.43,101.3 567.16,101.5 567.89,101.68 568.63,101.86 569.36,102.03 570.09,102.2 570.82,102.36 571.56,102.51 572.29,102.66 573.02,102.8 573.75,102.94 574.49,103.07 575.22,103.2 575.95,103.33 576.69,103.45 577.42,103.57 578.15,103.68 578.88,103.79 579.62,103.9 580.35,104 581.08,104.1 581.81,104.2 582.55,104.3 583.28,104.39 584.01,104.48 584.75,104.57 585.48,104.66 586.21,104.75 586.94,104.83 587.68,104.91 588.41,104.99 589.14,105.06 589.87,105.14 590.61,105.21 591.34,105.29 592.07,105.36 592.81,105.42 593.54,105.49 594.27,105.56 595,105.62 595.74,105.69 596.47,105.75 597.2,105.81 597.93,105.87 598.67,105.93 599.4,105.98 600.13,106.04 600.87,106.09 601.6,106.15 602.33,106.2 603.06,106.25 603.8,106.3 604.53,106.35 605.26,106.4 605.99,106.45 606.73,106.49 607.46,106.54 608.19,106.58 608.93,106.63 609.66,106.67 610.39,106.71 611.12,106.76 611.86,106.8 612.59,106.84 613.32,106.88 614.05,106.92 614.79,106.95 615.52,106.99 616.25,107.03 616.99,107.06 617.72,107.1 618.45,107.13 619.18,107.17 619.92,107.2 620.65,107.24 621.38,107.27 622.11,107.3 622.85,107.33 623.58,107.36 624.31,107.39 625.05,107.42 625.78,107.45 626.51,107.48 627.24,107.51 627.98,107.54 628.71,107.57 629.44,107.59 630.17,107.62 630.91,107.65 631.64,107.67 632.37,107.7 633.11,107.72 633.84,107.75 634.57,107.77 635.3,107.79 636.04,107.82 636.77,107.84 637.5,107.86 638.23,107.88 638.97,107.91 639.7,107.93 640.43,107.95 641.17,107.97 641.9,107.99 642.63,108.01 643.36,108.03 644.1,108.05 644.83,108.07 645.56,108.09 646.29,108.11 647.03,108.13 647.76,108.14 648.49,108.16 649.23,108.18 649.96,108.2 650.69,108.21 651.42,108.23 652.16,108.25 652.89,108.26 653.62,108.28 654.35,108.29 655.09,108.31 655.82,108.33 656.55,108.34 657.29,108.36 658.02,108.37 658.75,108.38 659.48,108.4 660.22,108.41 660.95,108.43 661.68,108.44 662.41,108.45 663.15,108.47 663.88,108.48 664.61,108.49 665.35,108.5 666.08,108.52 666.81,108.53 667.54,108.54 668.28,108.55 669.01,108.56 669.74,108.58 670.47,108.59 671.21,108.6 671.94,108.61 672.67,108.62" fill="none" stroke="#42c99b" stroke-width="2.8" stroke-linejoin="round" stroke-linecap="butt" stroke-linecap="square"/>
<polyline points="526.13,143.88 526.86,139.31 527.59,134.99 528.33,130.92 529.06,127.08 529.79,123.47 530.52,120.08 531.26,116.89 531.99,113.91 532.72,111.11 533.45,108.48 534.19,106.02 534.92,103.7 535.65,101.52 536.39,99.48 537.12,97.55 537.85,95.73 538.58,94.01 539.32,92.39 540.05,90.85 540.78,89.39 541.51,88 542.25,86.68 542.98,85.42 543.71,84.22 544.45,83.08 545.18,81.98 545.91,80.93 546.64,79.92 547.38,78.95 548.11,78.02 548.84,77.12 549.57,76.25 550.31,75.41 551.04,74.6 551.77,73.81 552.51,73.05 553.24,72.32 553.97,71.6 554.7,70.91 555.44,70.23 556.17,69.58 556.9,68.94 557.63,68.31 558.37,67.71 559.1,67.12 559.83,66.54 560.57,65.98 561.3,65.43 562.03,64.89 562.76,64.36 563.5,63.85 564.23,63.35 564.96,62.86 565.69,62.38 566.43,61.91 567.16,61.44 567.89,60.99 568.63,60.55 569.36,60.12 570.09,59.69 570.82,59.28 571.56,58.87 572.29,58.47 573.02,58.08 573.75,57.69 574.49,57.32 575.22,56.95 575.95,56.58 576.69,56.22 577.42,55.87 578.15,55.53 578.88,55.19 579.62,54.86 580.35,54.54 581.08,54.22 581.81,53.9 582.55,53.59 583.28,53.29 584.01,52.99 584.75,52.7 585.48,52.41 586.21,52.13 586.94,51.85 587.68,51.58 588.41,51.31 589.14,51.04 589.87,50.78 590.61,50.53 591.34,50.28 592.07,50.03 592.81,49.79 593.54,49.55 594.27,49.31 595,49.08 595.74,48.85 596.47,48.63 597.2,48.41 597.93,48.19 598.67,47.98 599.4,47.77 600.13,47.56 600.87,47.36 601.6,47.16 602.33,46.97 603.06,46.77 603.8,46.58 604.53,46.39 605.26,46.21 605.99,46.03 606.73,45.85 607.46,45.67 608.19,45.5 608.93,45.33 609.66,45.16 610.39,44.99 611.12,44.83 611.86,44.67 612.59,44.51 613.32,44.36 614.05,44.2 614.79,44.05 615.52,43.9 616.25,43.76 616.99,43.61 617.72,43.47 618.45,43.33 619.18,43.19 619.92,43.06 620.65,42.92 621.38,42.79 622.11,42.66 622.85,42.53 623.58,42.41 624.31,42.28 625.05,42.16 625.78,42.04 626.51,41.92 627.24,41.81 627.98,41.69 628.71,41.58 629.44,41.47 630.17,41.36 630.91,41.25 631.64,41.14 632.37,41.03 633.11,40.93 633.84,40.83 634.57,40.73 635.3,40.63 636.04,40.53 636.77,40.43 637.5,40.34 638.23,40.24 638.97,40.15 639.7,40.06 640.43,39.97 641.17,39.88 641.9,39.79 642.63,39.71 643.36,39.62 644.1,39.54 644.83,39.46 645.56,39.38 646.29,39.29 647.03,39.22 647.76,39.14 648.49,39.06 649.23,38.99 649.96,38.91 650.69,38.84 651.42,38.76 652.16,38.69 652.89,38.62 653.62,38.55 654.35,38.48 655.09,38.42 655.82,38.35 656.55,38.28 657.29,38.22 658.02,38.16 658.75,38.09 659.48,38.03 660.22,37.97 660.95,37.91 661.68,37.85 662.41,37.79 663.15,37.73 663.88,37.68 664.61,37.62 665.35,37.56 666.08,37.51 666.81,37.46 667.54,37.4 668.28,37.35 669.01,37.3 669.74,37.25 670.47,37.2 671.21,37.15 671.94,37.1 672.67,37.05" fill="none" stroke="#e2288b" stroke-width="2.8" stroke-linejoin="round" stroke-linecap="butt" stroke-linecap="square"/>
<polyline points="526.13,51.91 526.86,56.75 527.59,61.57 528.33,66.29 529.06,70.87 529.79,75.28 530.52,79.48 531.26,83.46 531.99,87.2 532.72,90.71 533.45,93.99 534.19,97.04 534.92,99.87 535.65,102.5 536.39,104.92 537.12,107.16 537.85,109.23 538.58,111.13 539.32,112.89 540.05,114.51 540.78,116 541.51,117.37 542.25,118.64 542.98,119.81 543.71,120.9 544.45,121.9 545.18,122.82 545.91,123.68 546.64,124.48 547.38,125.22 548.11,125.91 548.84,126.56 549.57,127.16 550.31,127.72 551.04,128.25 551.77,128.74 552.51,129.21 553.24,129.65 553.97,130.06 554.7,130.46 555.44,130.83 556.17,131.18 556.9,131.51 557.63,131.83 558.37,132.14 559.1,132.43 559.83,132.7 560.57,132.97 561.3,133.22 562.03,133.47 562.76,133.7 563.5,133.93 564.23,134.15 564.96,134.36 565.69,134.56 566.43,134.75 567.16,134.94 567.89,135.13 568.63,135.3 569.36,135.48 570.09,135.64 570.82,135.81 571.56,135.96 572.29,136.12 573.02,136.26 573.75,136.41 574.49,136.55 575.22,136.69 575.95,136.82 576.69,136.95 577.42,137.08 578.15,137.2 578.88,137.32 579.62,137.44 580.35,137.55 581.08,137.67 581.81,137.77 582.55,137.88 583.28,137.99 584.01,138.09 584.75,138.19 585.48,138.29 586.21,138.38 586.94,138.48 587.68,138.57 588.41,138.66 589.14,138.75 589.87,138.83 590.61,138.92 591.34,139 592.07,139.08 592.81,139.16 593.54,139.24 594.27,139.31 595,139.39 595.74,139.46 596.47,139.53 597.2,139.6 597.93,139.67 598.67,139.74 599.4,139.8 600.13,139.87 600.87,139.93 601.6,139.99 602.33,140.06 603.06,140.12 603.8,140.17 604.53,140.23 605.26,140.29 605.99,140.35 606.73,140.4 607.46,140.45 608.19,140.51 608.93,140.56 609.66,140.61 610.39,140.66 611.12,140.71 611.86,140.76 612.59,140.81 613.32,140.85 614.05,140.9 614.79,140.94 615.52,140.99 616.25,141.03 616.99,141.08 617.72,141.12 618.45,141.16 619.18,141.2 619.92,141.24 620.65,141.28 621.38,141.32 622.11,141.36 622.85,141.39 623.58,141.43 624.31,141.47 625.05,141.5 625.78,141.54 626.51,141.57 627.24,141.61 627.98,141.64 628.71,141.67 629.44,141.7 630.17,141.74 630.91,141.77 631.64,141.8 632.37,141.83 633.11,141.86 633.84,141.89 634.57,141.92 635.3,141.94 636.04,141.97 636.77,142 637.5,142.03 638.23,142.05 638.97,142.08 639.7,142.11 640.43,142.13 641.17,142.16 641.9,142.18 642.63,142.21 643.36,142.23 644.1,142.25 644.83,142.28 645.56,142.3 646.29,142.32 647.03,142.34 647.76,142.37 648.49,142.39 649.23,142.41 649.96,142.43 650.69,142.45 651.42,142.47 652.16,142.49 652.89,142.51 653.62,142.53 654.35,142.55 655.09,142.57 655.82,142.58 656.55,142.6 657.29,142.62 658.02,142.64 658.75,142.66 659.48,142.67 660.22,142.69 660.95,142.71 661.68,142.72 662.41,142.74 663.15,142.75 663.88,142.77 664.61,142.79 665.35,142.8 666.08,142.82 666.81,142.83 667.54,142.85 668.28,142.86 669.01,142.87 669.74,142.89 670.47,142.9 671.21,142.92 671.94,142.93 672.67,142.94" fill="none" stroke="#93a3a3" stroke-width="2.8" stroke-linejoin="round" stroke-linecap="butt" stroke-linecap="square"/>
<rect x="518.8" y="28" width="161.2" height="121.4" fill="none" stroke="#7a7a7a" stroke-width="1"/>
<line x1="526.13" y1="149.4" x2="526.13" y2="151.6" stroke="#7a7a7a" stroke-width="1"/>
<text x="526.13" y="162.9" font-size="11.7" text-anchor="middle" fill="#1a1a1a" textLength="16.19" lengthAdjust="spacingAndGlyphs">0.0</text>
<line x1="562.76" y1="149.4" x2="562.76" y2="151.6" stroke="#7a7a7a" stroke-width="1"/>
<text x="562.76" y="162.9" font-size="11.7" text-anchor="middle" fill="#1a1a1a" textLength="16.19" lengthAdjust="spacingAndGlyphs">2.5</text>
<line x1="599.4" y1="149.4" x2="599.4" y2="151.6" stroke="#7a7a7a" stroke-width="1"/>
<text x="599.4" y="162.9" font-size="11.7" text-anchor="middle" fill="#1a1a1a" textLength="16.19" lengthAdjust="spacingAndGlyphs">5.0</text>
<line x1="636.04" y1="149.4" x2="636.04" y2="151.6" stroke="#7a7a7a" stroke-width="1"/>
<text x="636.04" y="162.9" font-size="11.7" text-anchor="middle" fill="#1a1a1a" textLength="16.19" lengthAdjust="spacingAndGlyphs">7.5</text>
<line x1="672.67" y1="149.4" x2="672.67" y2="151.6" stroke="#7a7a7a" stroke-width="1"/>
<text x="672.67" y="162.9" font-size="11.7" text-anchor="middle" fill="#1a1a1a" textLength="22.66" lengthAdjust="spacingAndGlyphs">10.0</text>
<line x1="516.6" y1="143.88" x2="518.8" y2="143.88" stroke="#7a7a7a" stroke-width="1"/>
<text x="513.9" y="148.18" font-size="11.7" text-anchor="end" fill="#1a1a1a" textLength="22.92" lengthAdjust="spacingAndGlyphs">0.00</text>
<line x1="516.6" y1="116.29" x2="518.8" y2="116.29" stroke="#7a7a7a" stroke-width="1"/>
<text x="513.9" y="120.59" font-size="11.7" text-anchor="end" fill="#1a1a1a" textLength="22.92" lengthAdjust="spacingAndGlyphs">0.25</text>
<line x1="516.6" y1="88.7" x2="518.8" y2="88.7" stroke="#7a7a7a" stroke-width="1"/>
<text x="513.9" y="93" font-size="11.7" text-anchor="end" fill="#1a1a1a" textLength="22.92" lengthAdjust="spacingAndGlyphs">0.50</text>
<line x1="516.6" y1="61.11" x2="518.8" y2="61.11" stroke="#7a7a7a" stroke-width="1"/>
<text x="513.9" y="65.41" font-size="11.7" text-anchor="end" fill="#1a1a1a" textLength="22.92" lengthAdjust="spacingAndGlyphs">0.75</text>
<line x1="516.6" y1="33.52" x2="518.8" y2="33.52" stroke="#7a7a7a" stroke-width="1"/>
<text x="513.9" y="37.82" font-size="11.7" text-anchor="end" fill="#1a1a1a" textLength="22.92" lengthAdjust="spacingAndGlyphs">1.00</text>
<g transform="translate(599 176.5)">
<text x="-18.3" y="0" font-size="11.7" fill="#1a1a1a" textLength="30.6" lengthAdjust="spacingAndGlyphs">Time,&#160;</text>
<text x="12.3" y="0" font-size="11.7" fill="#1a1a1a" font-style="italic" textLength="6" lengthAdjust="spacingAndGlyphs">T</text>
</g>
<text x="599.4" y="23.9" font-size="12.6" text-anchor="middle" fill="#1a1a1a" textLength="31.5" lengthAdjust="spacingAndGlyphs"><tspan font-style="italic">α</tspan> = 2</text>
<rect x="588.2" y="66.9" width="87" height="43.2" rx="2" fill="#fff" fill-opacity="0.8" stroke="#d0d0d0" stroke-width="0.8"/>
<line x1="590.6" y1="74.4" x2="609.2" y2="74.4" stroke="#42c99b" stroke-width="2.8"/>
<g transform="translate(615 77.9)">
<text x="0" y="0" font-size="9.3" fill="#1a1a1a" textLength="52.72" lengthAdjust="spacingAndGlyphs">Attachment,&#160;</text>
<text x="52.72" y="0" font-size="9.3" fill="#1a1a1a" font-style="italic" textLength="5.53" lengthAdjust="spacingAndGlyphs">A</text>
</g>
<line x1="590.6" y1="87.85" x2="609.2" y2="87.85" stroke="#e2288b" stroke-width="2.8"/>
<g transform="translate(615 91.35)">
<text x="0" y="0" font-size="9.3" fill="#1a1a1a" textLength="37.51" lengthAdjust="spacingAndGlyphs">Velocity,&#160;</text>
<text x="37.51" y="0" font-size="9.3" fill="#1a1a1a" font-style="italic" textLength="5.53" lengthAdjust="spacingAndGlyphs">V</text>
</g>
<line x1="590.6" y1="101.3" x2="609.2" y2="101.3" stroke="#93a3a3" stroke-width="2.8"/>
<g transform="translate(615 104.8)">
<text x="0" y="0" font-size="9.3" fill="#1a1a1a" textLength="27.5" lengthAdjust="spacingAndGlyphs">Force,&#160;</text>
<text x="27.5" y="0" font-size="9.3" fill="#1a1a1a" font-style="italic" textLength="4.65" lengthAdjust="spacingAndGlyphs">F</text>
</g>
<polyline points="527.42,203.03 675.78,203.03" fill="none" stroke="#000" stroke-width="2.8" stroke-linejoin="round" stroke-linecap="butt" stroke-linecap="square"/>
<polyline points="527.42,203.03 528.01,203.11 528.61,203.32 529.2,203.65 529.79,204.11 530.39,204.67 530.98,205.34 531.57,206.09 532.17,206.92 532.76,207.82 533.35,208.78 533.95,209.79 534.54,210.85 535.13,211.95 535.73,213.09 536.32,214.25 536.91,215.43 537.51,216.62 538.1,217.83 538.69,219.04 539.29,220.25 539.88,221.47 540.47,222.67 541.07,223.87 541.66,225.06 542.25,226.23 542.85,227.39 543.44,228.53 544.03,229.66 544.63,230.76 545.22,231.84 545.82,232.9 546.41,233.94 547,234.96 547.6,235.95 548.19,236.91 548.78,237.85 549.38,238.77 549.97,239.66 550.56,240.53 551.16,241.37 551.75,242.19 552.34,242.98 552.94,243.75 553.53,244.5 554.12,245.22 554.72,245.92 555.31,246.6 555.9,247.26 556.5,247.89 557.09,248.51 557.68,249.1 558.28,249.68 558.87,250.23 559.46,250.77 560.06,251.29 560.65,251.79 561.25,252.27 561.84,252.74 562.43,253.19 563.03,253.63 563.62,254.05 564.21,254.45 564.81,254.84 565.4,255.22 565.99,255.59 566.59,255.94 567.18,256.28 567.77,256.61 568.37,256.93 568.96,257.23 569.55,257.53 570.15,257.81 570.74,258.09 571.33,258.35 571.93,258.61 572.52,258.86 573.11,259.1 573.71,259.33 574.3,259.55 574.89,259.77 575.49,259.98 576.08,260.18 576.67,260.37 577.27,260.56 577.86,260.74 578.46,260.92 579.05,261.09 579.64,261.26 580.24,261.42 580.83,261.57 581.42,261.72 582.02,261.87 582.61,262.01 583.2,262.14 583.8,262.27 584.39,262.4 584.98,262.52 585.58,262.64 586.17,262.76 586.76,262.87 587.36,262.98 587.95,263.09 588.54,263.19 589.14,263.29 589.73,263.39 590.32,263.48 590.92,263.57 591.51,263.66 592.1,263.74 592.7,263.83 593.29,263.91 593.89,263.99 594.48,264.06 595.07,264.14 595.67,264.21 596.26,264.28 596.85,264.35 597.45,264.42 598.04,264.48 598.63,264.55 599.23,264.61 599.82,264.67 600.41,264.73 601.01,264.78 601.6,264.84 602.19,264.89 602.79,264.95 603.38,265 603.97,265.05 604.57,265.1 605.16,265.14 605.75,265.19 606.35,265.24 606.94,265.28 607.53,265.32 608.13,265.36 608.72,265.41 609.31,265.45 609.91,265.49 610.5,265.52 611.1,265.56 611.69,265.6 612.28,265.63 612.88,265.67 613.47,265.7 614.06,265.74 614.66,265.77 615.25,265.8 615.84,265.83 616.44,265.86 617.03,265.89 617.62,265.92 618.22,265.95 618.81,265.98 619.4,266 620,266.03 620.59,266.06 621.18,266.08 621.78,266.11 622.37,266.13 622.96,266.15 623.56,266.18 624.15,266.2 624.74,266.22 625.34,266.25 625.93,266.27 626.53,266.29 627.12,266.31 627.71,266.33 628.31,266.35 628.9,266.37 629.49,266.39 630.09,266.41 630.68,266.42 631.27,266.44 631.87,266.46 632.46,266.48 633.05,266.49 633.65,266.51 634.24,266.53 634.83,266.54 635.43,266.56 636.02,266.57 636.61,266.59 637.21,266.6 637.8,266.62 638.39,266.63 638.99,266.64 639.58,266.66 640.17,266.67 640.77,266.68 641.36,266.7 641.95,266.71 642.55,266.72 643.14,266.73 643.74,266.74 644.33,266.76 644.92,266.77 645.52,266.78 646.11,266.79 646.7,266.8 647.3,266.81 647.89,266.82 648.48,266.83 649.08,266.84 649.67,266.85 650.26,266.86 650.86,266.87 651.45,266.88 652.04,266.89 652.64,266.9 653.23,266.9 653.82,266.91 654.42,266.92 655.01,266.93 655.6,266.94 656.2,266.95 656.79,266.95 657.38,266.96 657.98,266.97 658.57,266.97 659.17,266.98 659.76,266.99 660.35,267 660.95,267 661.54,267.01 662.13,267.02 662.73,267.02 663.32,267.03 663.91,267.03 664.51,267.04 665.1,267.05 665.69,267.05 666.29,267.06 666.88,267.06 667.47,267.07 668.07,267.07 668.66,267.08 669.25,267.09 669.85,267.09 670.44,267.1 671.03,267.1 671.63,267.1 672.22,267.11 672.81,267.11 673.41,267.12 674,267.12 674.59,267.13 675.19,267.13 675.78,267.14" fill="none" stroke="#1f77b4" stroke-width="2.8" stroke-linejoin="round" stroke-linecap="butt" stroke-linecap="square"/>
<polyline points="527.42,203.03 528.01,203.52 528.61,204.45 529.2,205.76 529.79,207.4 530.39,209.32 530.98,211.48 531.57,213.82 532.17,216.31 532.76,218.9 533.35,221.57 533.95,224.27 534.54,226.98 535.13,229.69 535.73,232.36 536.32,234.98 536.91,237.55 537.51,240.04 538.1,242.45 538.69,244.77 539.29,247.01 539.88,249.14 540.47,251.19 541.07,253.13 541.66,254.98 542.25,256.74 542.85,258.4 543.44,259.98 544.03,261.46 544.63,262.87 545.22,264.19 545.82,265.44 546.41,266.61 547,267.71 547.6,268.75 548.19,269.72 548.78,270.64 549.38,271.5 549.97,272.31 550.56,273.07 551.16,273.78 551.75,274.45 552.34,275.08 552.94,275.67 553.53,276.23 554.12,276.75 554.72,277.25 555.31,277.71 555.9,278.15 556.5,278.56 557.09,278.95 557.68,279.32 558.28,279.66 558.87,279.99 559.46,280.3 560.06,280.6 560.65,280.88 561.25,281.14 561.84,281.39 562.43,281.63 563.03,281.86 563.62,282.08 564.21,282.29 564.81,282.48 565.4,282.67 565.99,282.85 566.59,283.03 567.18,283.19 567.77,283.35 568.37,283.51 568.96,283.65 569.55,283.79 570.15,283.93 570.74,284.06 571.33,284.19 571.93,284.31 572.52,284.43 573.11,284.56 573.71,284.68 574.3,284.79 574.89,284.9 575.49,285.01 576.08,285.12 576.67,285.22 577.27,285.32 577.86,285.42 578.46,285.51 579.05,285.6 579.64,285.69 580.24,285.78 580.83,285.87 581.42,285.95 582.02,286.03 582.61,286.11 583.2,286.19 583.8,286.27 584.39,286.34 584.98,286.42 585.58,286.49 586.17,286.56 586.76,286.63 587.36,286.69 587.95,286.76 588.54,286.82 589.14,286.89 589.73,286.95 590.32,287.01 590.92,287.07 591.51,287.13 592.1,287.19 592.7,287.24 593.29,287.3 593.89,287.35 594.48,287.41 595.07,287.46 595.67,287.51 596.26,287.56 596.85,287.61 597.45,287.66 598.04,287.71 598.63,287.76 599.23,287.8 599.82,287.85 600.41,287.9 601.01,287.94 601.6,287.98 602.19,288.03 602.79,288.07 603.38,288.11 603.97,288.15 604.57,288.19 605.16,288.23 605.75,288.27 606.35,288.31 606.94,288.35 607.53,288.39 608.13,288.43 608.72,288.46 609.31,288.5 609.91,288.53 610.5,288.57 611.1,288.6 611.69,288.64 612.28,288.67 612.88,288.7 613.47,288.74 614.06,288.77 614.66,288.8 615.25,288.83 615.84,288.86 616.44,288.89 617.03,288.93 617.62,288.96 618.22,288.98 618.81,289.01 619.4,289.04 620,289.07 620.59,289.1 621.18,289.13 621.78,289.15 622.37,289.18 622.96,289.21 623.56,289.23 624.15,289.26 624.74,289.29 625.34,289.31 625.93,289.34 626.53,289.36 627.12,289.39 627.71,289.41 628.31,289.44 628.9,289.46 629.49,289.48 630.09,289.51 630.68,289.53 631.27,289.55 631.87,289.58 632.46,289.6 633.05,289.62 633.65,289.64 634.24,289.66 634.83,289.68 635.43,289.71 636.02,289.73 636.61,289.75 637.21,289.77 637.8,289.79 638.39,289.81 638.99,289.83 639.58,289.85 640.17,289.87 640.77,289.89 641.36,289.91 641.95,289.93 642.55,289.95 643.14,289.96 643.74,289.98 644.33,290 644.92,290.02 645.52,290.04 646.11,290.06 646.7,290.07 647.3,290.09 647.89,290.11 648.48,290.13 649.08,290.14 649.67,290.16 650.26,290.18 650.86,290.2 651.45,290.21 652.04,290.23 652.64,290.24 653.23,290.26 653.82,290.28 654.42,290.29 655.01,290.31 655.6,290.33 656.2,290.34 656.79,290.36 657.38,290.37 657.98,290.39 658.57,290.4 659.17,290.42 659.76,290.43 660.35,290.45 660.95,290.46 661.54,290.48 662.13,290.49 662.73,290.51 663.32,290.52 663.91,290.54 664.51,290.55 665.1,290.56 665.69,290.58 666.29,290.59 666.88,290.61 667.47,290.62 668.07,290.63 668.66,290.65 669.25,290.66 669.85,290.68 670.44,290.69 671.03,290.7 671.63,290.72 672.22,290.73 672.81,290.74 673.41,290.76 674,290.77 674.59,290.78 675.19,290.79 675.78,290.81" fill="none" stroke="#ff7f0e" stroke-width="2.8" stroke-linejoin="round" stroke-linecap="butt" stroke-linecap="square"/>
<polyline points="527.42,203.03 528.01,205.08 528.61,209.73 529.2,216.24 529.79,223.88 530.39,231.99 530.98,240.09 531.57,247.8 532.17,254.9 532.76,261.28 533.35,266.9 533.95,271.77 534.54,275.96 535.13,279.52 535.73,282.53 536.32,285.07 536.91,287.21 537.51,289.01 538.1,290.54 538.69,291.83 539.29,292.94 539.88,293.89 540.47,294.71 541.07,295.43 541.66,296.06 542.25,296.63 542.85,297.13 543.44,297.59 544.03,298.01 544.63,298.4 545.22,298.75 545.82,299.09 546.41,299.4 547,299.69 547.6,299.97 548.19,300.23 548.78,300.48 549.38,300.72 549.97,300.95 550.56,301.17 551.16,301.38 551.75,301.58 552.34,301.77 552.94,301.96 553.53,302.14 554.12,302.31 554.72,302.48 555.31,302.65 555.9,302.8 556.5,302.95 557.09,303.1 557.68,303.24 558.28,303.38 558.87,303.52 559.46,303.65 560.06,303.77 560.65,303.9 561.25,304.02 561.84,304.13 562.43,304.25 563.03,304.36 563.62,304.47 564.21,304.57 564.81,304.67 565.4,304.77 565.99,304.87 566.59,304.96 567.18,305.05 567.77,305.14 568.37,305.23 568.96,305.32 569.55,305.4 570.15,305.48 570.74,305.56 571.33,305.64 571.93,305.72 572.52,305.8 573.11,305.89 573.71,305.97 574.3,306.05 574.89,306.13 575.49,306.21 576.08,306.28 576.67,306.36 577.27,306.43 577.86,306.51 578.46,306.58 579.05,306.65 579.64,306.72 580.24,306.78 580.83,306.85 581.42,306.92 582.02,306.98 582.61,307.04 583.2,307.11 583.8,307.17 584.39,307.23 584.98,307.29 585.58,307.35 586.17,307.4 586.76,307.46 587.36,307.52 587.95,307.57 588.54,307.63 589.14,307.68 589.73,307.73 590.32,307.79 590.92,307.84 591.51,307.89 592.1,307.94 592.7,307.99 593.29,308.04 593.89,308.09 594.48,308.13 595.07,308.18 595.67,308.23 596.26,308.27 596.85,308.32 597.45,308.36 598.04,308.41 598.63,308.45 599.23,308.49 599.82,308.54 600.41,308.58 601.01,308.62 601.6,308.66 602.19,308.7 602.79,308.74 603.38,308.78 603.97,308.82 604.57,308.86 605.16,308.9 605.75,308.94 606.35,308.97 606.94,309.01 607.53,309.05 608.13,309.08 608.72,309.12 609.31,309.15 609.91,309.19 610.5,309.22 611.1,309.26 611.69,309.29 612.28,309.33 612.88,309.36 613.47,309.39 614.06,309.43 614.66,309.46 615.25,309.49 615.84,309.52 616.44,309.55 617.03,309.59 617.62,309.62 618.22,309.65 618.81,309.68 619.4,309.71 620,309.74 620.59,309.77 621.18,309.8 621.78,309.83 622.37,309.85 622.96,309.88 623.56,309.91 624.15,309.94 624.74,309.97 625.34,309.99 625.93,310.02 626.53,310.05 627.12,310.08 627.71,310.1 628.31,310.13 628.9,310.16 629.49,310.18 630.09,310.21 630.68,310.23 631.27,310.26 631.87,310.28 632.46,310.31 633.05,310.33 633.65,310.36 634.24,310.38 634.83,310.41 635.43,310.43 636.02,310.46 636.61,310.48 637.21,310.5 637.8,310.53 638.39,310.55 638.99,310.57 639.58,310.6 640.17,310.62 640.77,310.64 641.36,310.66 641.95,310.69 642.55,310.71 643.14,310.73 643.74,310.75 644.33,310.78 644.92,310.8 645.52,310.82 646.11,310.84 646.7,310.86 647.3,310.88 647.89,310.9 648.48,310.92 649.08,310.95 649.67,310.97 650.26,310.99 650.86,311.01 651.45,311.03 652.04,311.05 652.64,311.07 653.23,311.09 653.82,311.11 654.42,311.13 655.01,311.15 655.6,311.17 656.2,311.19 656.79,311.2 657.38,311.22 657.98,311.24 658.57,311.26 659.17,311.28 659.76,311.3 660.35,311.32 660.95,311.34 661.54,311.35 662.13,311.37 662.73,311.39 663.32,311.41 663.91,311.43 664.51,311.45 665.1,311.46 665.69,311.48 666.29,311.5 666.88,311.52 667.47,311.53 668.07,311.55 668.66,311.57 669.25,311.59 669.85,311.6 670.44,311.62 671.03,311.64 671.63,311.66 672.22,311.67 672.81,311.69 673.41,311.71 674,311.72 674.59,311.74 675.19,311.76 675.78,311.77" fill="none" stroke="#2ca02c" stroke-width="2.8" stroke-linejoin="round" stroke-linecap="butt" stroke-linecap="square"/>
<rect x="520" y="196.6" width="163.2" height="135.1" fill="none" stroke="#7a7a7a" stroke-width="1"/>
<line x1="527.42" y1="331.7" x2="527.42" y2="333.9" stroke="#7a7a7a" stroke-width="1"/>
<text x="527.42" y="345" font-size="11.7" text-anchor="middle" fill="#1a1a1a" textLength="7.44" lengthAdjust="spacingAndGlyphs">0</text>
<line x1="601.6" y1="331.7" x2="601.6" y2="333.9" stroke="#7a7a7a" stroke-width="1"/>
<text x="601.6" y="345" font-size="11.7" text-anchor="middle" fill="#1a1a1a" textLength="7.44" lengthAdjust="spacingAndGlyphs">5</text>
<line x1="675.78" y1="331.7" x2="675.78" y2="333.9" stroke="#7a7a7a" stroke-width="1"/>
<text x="675.78" y="345" font-size="11.7" text-anchor="middle" fill="#1a1a1a" textLength="14.89" lengthAdjust="spacingAndGlyphs">10</text>
<line x1="517.8" y1="331.7" x2="520" y2="331.7" stroke="#7a7a7a" stroke-width="1"/>
<text x="515" y="336" font-size="11.7" text-anchor="end" fill="#1a1a1a" textLength="26.05" lengthAdjust="spacingAndGlyphs">0.00</text>
<line x1="517.8" y1="299.53" x2="520" y2="299.53" stroke="#7a7a7a" stroke-width="1"/>
<text x="515" y="303.83" font-size="11.7" text-anchor="end" fill="#1a1a1a" textLength="26.05" lengthAdjust="spacingAndGlyphs">0.25</text>
<line x1="517.8" y1="267.37" x2="520" y2="267.37" stroke="#7a7a7a" stroke-width="1"/>
<text x="515" y="271.67" font-size="11.7" text-anchor="end" fill="#1a1a1a" textLength="26.05" lengthAdjust="spacingAndGlyphs">0.50</text>
<line x1="517.8" y1="235.2" x2="520" y2="235.2" stroke="#7a7a7a" stroke-width="1"/>
<text x="515" y="239.5" font-size="11.7" text-anchor="end" fill="#1a1a1a" textLength="26.05" lengthAdjust="spacingAndGlyphs">0.75</text>
<line x1="517.8" y1="203.03" x2="520" y2="203.03" stroke="#7a7a7a" stroke-width="1"/>
<text x="515" y="207.33" font-size="11.7" text-anchor="end" fill="#1a1a1a" textLength="26.05" lengthAdjust="spacingAndGlyphs">1.00</text>
<g transform="translate(601.6 358.9)">
<text x="-20.7" y="0" font-size="11.7" fill="#1a1a1a" textLength="34.61" lengthAdjust="spacingAndGlyphs">Time,&#160;</text>
<text x="13.91" y="0" font-size="11.7" fill="#1a1a1a" font-style="italic" textLength="6.79" lengthAdjust="spacingAndGlyphs">T</text>
</g>
<g transform="translate(485.8 264.2) rotate(-90)">
<text x="-41.7" y="0" font-size="11.7" fill="#1a1a1a" textLength="75.47" lengthAdjust="spacingAndGlyphs">Attachment,&#160;</text>
<text x="33.77" y="0" font-size="11.7" fill="#1a1a1a" font-style="italic" textLength="7.92" lengthAdjust="spacingAndGlyphs">A</text>
</g>
<rect x="624" y="201" width="54.3" height="54.7" rx="2" fill="#fff" fill-opacity="0.8" stroke="#d0d0d0" stroke-width="0.8"/>
<line x1="626.3" y1="208" x2="647.1" y2="208" stroke="#000" stroke-width="2.8"/>
<text x="652.5" y="211.2" font-size="8.6" text-anchor="start" fill="#1a1a1a" textLength="22.5" lengthAdjust="spacingAndGlyphs"><tspan font-style="italic">α</tspan> = 0</text>
<line x1="626.3" y1="221.17" x2="647.1" y2="221.17" stroke="#1f77b4" stroke-width="2.8"/>
<text x="652.5" y="224.37" font-size="8.6" text-anchor="start" fill="#1a1a1a" textLength="22.5" lengthAdjust="spacingAndGlyphs"><tspan font-style="italic">α</tspan> = 1</text>
<line x1="626.3" y1="234.34" x2="647.1" y2="234.34" stroke="#ff7f0e" stroke-width="2.8"/>
<text x="652.5" y="237.54" font-size="8.6" text-anchor="start" fill="#1a1a1a" textLength="22.5" lengthAdjust="spacingAndGlyphs"><tspan font-style="italic">α</tspan> = 2</text>
<line x1="626.3" y1="247.51" x2="647.1" y2="247.51" stroke="#2ca02c" stroke-width="2.8"/>
<text x="652.5" y="250.71" font-size="8.6" text-anchor="start" fill="#1a1a1a" textLength="22.5" lengthAdjust="spacingAndGlyphs"><tspan font-style="italic">α</tspan> = 5</text>
<text x="0" y="19.5" font-size="34.2" text-anchor="start" fill="#000" font-weight="bold" textLength="20.35" lengthAdjust="spacingAndGlyphs" stroke="#fff" stroke-width="0.5">a</text>
<text x="-0.6" y="199.1" font-size="34.2" text-anchor="start" fill="#000" font-weight="bold" textLength="22.35" lengthAdjust="spacingAndGlyphs" stroke="#fff" stroke-width="0.5">b</text>
<text x="197.5" y="196.3" font-size="34.2" text-anchor="start" fill="#000" font-weight="bold" textLength="20.35" lengthAdjust="spacingAndGlyphs" stroke="#fff" stroke-width="0.5">c</text>
<text x="463.4" y="26.6" font-size="34.2" text-anchor="start" fill="#000" font-weight="bold" textLength="22.35" lengthAdjust="spacingAndGlyphs" stroke="#fff" stroke-width="0.5">d</text>
<text x="463.5" y="196.3" font-size="34.2" text-anchor="start" fill="#000" font-weight="bold" textLength="20.35" lengthAdjust="spacingAndGlyphs" stroke="#fff" stroke-width="0.5">e</text>
<text x="32" y="18.3" font-size="20.5" text-anchor="start" fill="#000" font-weight="bold" textLength="121" lengthAdjust="spacingAndGlyphs">Detached, D</text>
<text x="227.2" y="18.7" font-size="20.5" text-anchor="start" fill="#000" font-weight="bold" textLength="118.5" lengthAdjust="spacingAndGlyphs">Attached, A</text>
<text x="402.2" y="33.3" font-size="17" text-anchor="start" fill="#000" font-weight="bold" textLength="43" lengthAdjust="spacingAndGlyphs">Actin</text>
<text x="389.6" y="86.8" font-size="17" text-anchor="start" fill="#000" font-weight="bold" textLength="57.5" lengthAdjust="spacingAndGlyphs">Myosin</text>
<polyline points="353.3,38.9 373.5,28 395.8,28" fill="none" stroke="#111" stroke-width="1.3" stroke-linejoin="round" stroke-linecap="butt"/>
<polyline points="273.9,103.2 314.8,82.7 382,82.7" fill="none" stroke="#111" stroke-width="1.3" stroke-linejoin="round" stroke-linecap="butt"/>
<defs><radialGradient id="gD" cx="0.45" cy="0.4" r="0.6"><stop offset="0" stop-color="#d65c65"/><stop offset="0.7" stop-color="#cc4c55"/><stop offset="1" stop-color="#b8404a"/></radialGradient><radialGradient id="gL" cx="0.45" cy="0.4" r="0.6"><stop offset="0" stop-color="#e9878d"/><stop offset="0.7" stop-color="#e27a81"/><stop offset="1" stop-color="#d0656c"/></radialGradient></defs>
<circle cx="30.4" cy="40.3" r="6.2" fill="url(#gD)" stroke="#b5434b" stroke-width="0.4" stroke-opacity="0.6"/>
<circle cx="42.2" cy="39.8" r="6.2" fill="url(#gD)" stroke="#b5434b" stroke-width="0.4" stroke-opacity="0.6"/>
<circle cx="54.9" cy="39.7" r="6.2" fill="url(#gD)" stroke="#b5434b" stroke-width="0.4" stroke-opacity="0.6"/>
<circle cx="67.1" cy="40.5" r="6.2" fill="url(#gD)" stroke="#b5434b" stroke-width="0.4" stroke-opacity="0.6"/>
<circle cx="78.8" cy="43.5" r="6.2" fill="url(#gD)" stroke="#b5434b" stroke-width="0.4" stroke-opacity="0.6"/>
<circle cx="86.5" cy="41.5" r="6.2" fill="url(#gD)" stroke="#b5434b" stroke-width="0.4" stroke-opacity="0.6"/>
<circle cx="97.7" cy="41" r="6.2" fill="url(#gL)" stroke="#b5434b" stroke-width="0.4" stroke-opacity="0.6"/>
<circle cx="109.5" cy="39.8" r="6.2" fill="url(#gL)" stroke="#b5434b" stroke-width="0.4" stroke-opacity="0.6"/>
<circle cx="122.2" cy="39.6" r="6.2" fill="url(#gL)" stroke="#b5434b" stroke-width="0.4" stroke-opacity="0.6"/>
<circle cx="135" cy="40.5" r="6.2" fill="url(#gL)" stroke="#b5434b" stroke-width="0.4" stroke-opacity="0.6"/>
<circle cx="147.2" cy="43.5" r="6.2" fill="url(#gL)" stroke="#b5434b" stroke-width="0.4" stroke-opacity="0.6"/>
<circle cx="158.9" cy="46.5" r="6.2" fill="url(#gL)" stroke="#b5434b" stroke-width="0.4" stroke-opacity="0.6"/>
<circle cx="24.5" cy="47.9" r="6.2" fill="url(#gL)" stroke="#b5434b" stroke-width="0.4" stroke-opacity="0.6"/>
<circle cx="36.8" cy="49.7" r="6.2" fill="url(#gL)" stroke="#b5434b" stroke-width="0.4" stroke-opacity="0.6"/>
<circle cx="49" cy="51.2" r="6.2" fill="url(#gL)" stroke="#b5434b" stroke-width="0.4" stroke-opacity="0.6"/>
<circle cx="61.9" cy="51" r="6.2" fill="url(#gL)" stroke="#b5434b" stroke-width="0.4" stroke-opacity="0.6"/>
<circle cx="74.1" cy="50.5" r="6.2" fill="url(#gL)" stroke="#b5434b" stroke-width="0.4" stroke-opacity="0.6"/>
<circle cx="92" cy="47" r="6.2" fill="url(#gD)" stroke="#b5434b" stroke-width="0.4" stroke-opacity="0.6"/>
<circle cx="104" cy="49" r="6.2" fill="url(#gD)" stroke="#b5434b" stroke-width="0.4" stroke-opacity="0.6"/>
<circle cx="116.8" cy="50.7" r="6.2" fill="url(#gD)" stroke="#b5434b" stroke-width="0.4" stroke-opacity="0.6"/>
<circle cx="129.5" cy="51.1" r="6.2" fill="url(#gD)" stroke="#b5434b" stroke-width="0.4" stroke-opacity="0.6"/>
<circle cx="141.5" cy="49.5" r="6.2" fill="url(#gD)" stroke="#b5434b" stroke-width="0.4" stroke-opacity="0.6"/>
<circle cx="154.8" cy="45" r="6.2" fill="url(#gD)" stroke="#b5434b" stroke-width="0.4" stroke-opacity="0.6"/>
<polyline points="30,38.94 31.52,38.24 33.04,37.58 34.56,36.95 36.08,36.35 37.59,35.8 39.11,35.29 40.63,34.83 42.15,34.42 43.67,34.05 45.19,33.74 46.71,33.48 48.23,33.28 49.75,33.13 51.27,33.04 52.78,33 54.3,33.02 55.82,33.1 57.34,33.23 58.86,33.42 60.38,33.66 61.9,33.96 63.42,34.31 64.94,34.71 66.46,35.16 67.97,35.65 69.49,36.19 71.01,36.77 72.53,37.39 74.05,38.05 75.57,38.74 77.09,39.46 78.61,40.21 80.13,40.98 81.65,41.77 83.16,42.57 84.68,43.39 86.2,44.22 87.72,45.05 89.24,45.88 90.76,46.71 92.28,47.53 93.8,48.34 95.32,49.13 96.84,49.91 98.35,50.67 99.87,51.4 101.39,52.1 102.91,52.77 104.43,53.4 105.95,54 107.47,54.55 108.99,55.07 110.51,55.53 112.03,55.95 113.54,56.32 115.06,56.63 116.58,56.9 118.1,57.11 119.62,57.26 121.14,57.36 122.66,57.4 124.18,57.38 125.7,57.31 127.22,57.18 128.73,57 130.25,56.76 131.77,56.47 133.29,56.12 134.81,55.73 136.33,55.28 137.85,54.79 139.37,54.25 140.89,53.68 142.41,53.06 143.92,52.4 145.44,51.72 146.96,51 148.48,50.25 150,49.49" fill="none" stroke="#2f3183" stroke-width="1.8" stroke-linejoin="round" stroke-linecap="butt" stroke-linecap="round"/>
<polyline points="16.3,44.27 18.21,45.32 20.13,46.36 22.04,47.4 23.96,48.42 25.87,49.42 27.78,50.39 29.7,51.31 31.61,52.2 33.53,53.03 35.44,53.8 37.35,54.51 39.27,55.16 41.18,55.72 43.09,56.21 45.01,56.62 46.92,56.95 48.84,57.19 50.75,57.34 52.66,57.4 54.58,57.37 56.49,57.25 58.41,57.04 60.32,56.75 62.23,56.37 64.15,55.9 66.06,55.36 67.98,54.75 69.89,54.06 71.8,53.31 73.72,52.5 75.63,51.63 77.55,50.72 79.46,49.76 81.37,48.78 83.29,47.76 85.2,46.73 87.12,45.68 89.03,44.64 90.94,43.59 92.86,42.56 94.77,41.55 96.68,40.56 98.6,39.61 100.51,38.7 102.43,37.84 104.34,37.03 106.25,36.29 108.17,35.6 110.08,34.99 112,34.46 113.91,34 115.82,33.63 117.74,33.34 119.65,33.14 121.57,33.03 123.48,33 125.39,33.07 127.31,33.23 129.22,33.47 131.14,33.8 133.05,34.22 134.96,34.72 136.88,35.29 138.79,35.94 140.71,36.65 142.62,37.43 144.53,38.27 146.45,39.15 148.36,40.09 150.27,41.05 152.19,42.05 154.1,43.08 156.02,44.12 157.93,45.16 159.84,46.21 161.76,47.25 163.67,48.27 165.59,49.27 167.5,50.25" fill="none" stroke="#2f3183" stroke-width="1.8" stroke-linejoin="round" stroke-linecap="butt" stroke-linecap="round"/>
<circle cx="224.3" cy="40.2" r="6.2" fill="url(#gD)" stroke="#b5434b" stroke-width="0.4" stroke-opacity="0.6"/>
<circle cx="236.6" cy="39.4" r="6.2" fill="url(#gD)" stroke="#b5434b" stroke-width="0.4" stroke-opacity="0.6"/>
<circle cx="248.8" cy="39.6" r="6.2" fill="url(#gD)" stroke="#b5434b" stroke-width="0.4" stroke-opacity="0.6"/>
<circle cx="261.3" cy="40.8" r="6.2" fill="url(#gD)" stroke="#b5434b" stroke-width="0.4" stroke-opacity="0.6"/>
<circle cx="273" cy="41.8" r="6.2" fill="url(#gD)" stroke="#b5434b" stroke-width="0.4" stroke-opacity="0.6"/>
<circle cx="285.5" cy="41" r="6.2" fill="url(#gD)" stroke="#b5434b" stroke-width="0.4" stroke-opacity="0.6"/>
<circle cx="297.5" cy="40" r="6.2" fill="url(#gL)" stroke="#b5434b" stroke-width="0.4" stroke-opacity="0.6"/>
<circle cx="304.2" cy="39" r="6.2" fill="url(#gL)" stroke="#b5434b" stroke-width="0.4" stroke-opacity="0.6"/>
<circle cx="316.5" cy="38.3" r="6.2" fill="url(#gL)" stroke="#b5434b" stroke-width="0.4" stroke-opacity="0.6"/>
<circle cx="328.8" cy="39" r="6.2" fill="url(#gL)" stroke="#b5434b" stroke-width="0.4" stroke-opacity="0.6"/>
<circle cx="341.2" cy="42.3" r="6.2" fill="url(#gL)" stroke="#b5434b" stroke-width="0.4" stroke-opacity="0.6"/>
<circle cx="218.5" cy="47.6" r="6.2" fill="url(#gL)" stroke="#b5434b" stroke-width="0.4" stroke-opacity="0.6"/>
<circle cx="230.7" cy="49.6" r="6.2" fill="url(#gL)" stroke="#b5434b" stroke-width="0.4" stroke-opacity="0.6"/>
<circle cx="242.9" cy="51.2" r="6.2" fill="url(#gL)" stroke="#b5434b" stroke-width="0.4" stroke-opacity="0.6"/>
<circle cx="255.4" cy="51.2" r="6.2" fill="url(#gL)" stroke="#b5434b" stroke-width="0.4" stroke-opacity="0.6"/>
<circle cx="267.4" cy="49.8" r="6.2" fill="url(#gL)" stroke="#b5434b" stroke-width="0.4" stroke-opacity="0.6"/>
<circle cx="279" cy="50" r="6.2" fill="url(#gL)" stroke="#b5434b" stroke-width="0.4" stroke-opacity="0.6"/>
<circle cx="298.5" cy="50.4" r="6.2" fill="url(#gD)" stroke="#b5434b" stroke-width="0.4" stroke-opacity="0.6"/>
<circle cx="310.8" cy="51.2" r="6.2" fill="url(#gD)" stroke="#b5434b" stroke-width="0.4" stroke-opacity="0.6"/>
<circle cx="323.1" cy="51.2" r="6.2" fill="url(#gD)" stroke="#b5434b" stroke-width="0.4" stroke-opacity="0.6"/>
<circle cx="335.5" cy="48.8" r="6.2" fill="url(#gD)" stroke="#b5434b" stroke-width="0.4" stroke-opacity="0.6"/>
<circle cx="347.5" cy="43.5" r="6" fill="url(#gD)" stroke="#b5434b" stroke-width="0.4" stroke-opacity="0.6"/>
<path d="M212.3,40 Q248,42 283,50.5 L293,53" fill="none" stroke="#2f3183" stroke-width="1.9" stroke-linecap="round"/>
<path d="M277.6,39.2 Q305,39.5 327,44.7 L347.8,50.4" fill="none" stroke="#2f3183" stroke-width="1.9" stroke-linecap="round"/>
<circle cx="354" cy="46.8" r="6.6" fill="url(#gL)" stroke="#b5434b" stroke-width="0.4" stroke-opacity="0.6"/>
<polyline points="123.8,87 123.31,88.7 122.88,90.14 122.42,91.45 121.77,92.85 120.94,94.33 120.16,95.46 119.24,96.61 118.22,97.78 117.13,99" fill="none" stroke="#e8683a" stroke-width="1.9" stroke-linejoin="round" stroke-linecap="butt" stroke-linecap="round"/>
<polyline points="123.8,87 122.71,88.38 121.75,89.52 120.9,90.61 120.05,91.88 119.22,93.35 118.65,94.6 118.13,95.97 117.63,97.44 117.13,99" fill="none" stroke="#b3262b" stroke-width="2.4" stroke-linejoin="round" stroke-linecap="butt" stroke-linecap="round"/>
<polyline points="117.13,99 116.59,100.62 116.28,101.76 115.58,103.42 115.07,104.53 114.12,106.15 113.37,107.2 112.52,108.22 111.25,109.8 110.27,110.8" fill="none" stroke="#b3262b" stroke-width="2.4" stroke-linejoin="round" stroke-linecap="butt" stroke-linecap="round"/>
<polyline points="117.13,99 116,100.27 115.16,101.12 114.08,102.55 113.36,103.54 112.42,105.16 111.88,106.33 111.41,107.57 110.66,109.45 110.27,110.8" fill="none" stroke="#e8683a" stroke-width="1.9" stroke-linejoin="round" stroke-linecap="butt" stroke-linecap="round"/>
<polyline points="110.27,110.8 109.87,112.16 109.43,113.52 108.9,114.85 107.92,116.77 107.18,118.03 106.34,119.23 105.39,120.4 104.38,121.53 103.32,122.65" fill="none" stroke="#e8683a" stroke-width="1.9" stroke-linejoin="round" stroke-linecap="butt" stroke-linecap="round"/>
<polyline points="110.27,110.8 109.28,111.81 108.32,112.87 107.41,113.98 106.22,115.77 105.48,117.03 104.84,118.36 104.29,119.75 103.79,121.19 103.32,122.65" fill="none" stroke="#b3262b" stroke-width="2.4" stroke-linejoin="round" stroke-linecap="butt" stroke-linecap="round"/>
<polyline points="103.32,122.65 102.85,124.13 102.34,125.6 101.76,127.03 101.09,128.41 100.31,129.74 99.81,130.35 98.84,131.57 97.8,132.75 96.72,133.91" fill="none" stroke="#b3262b" stroke-width="2.4" stroke-linejoin="round" stroke-linecap="butt" stroke-linecap="round"/>
<polyline points="103.32,122.65 102.26,123.79 101.23,124.95 100.27,126.15 99.39,127.41 98.61,128.74 98.32,129.47 97.73,130.92 97.21,132.4 96.72,133.91" fill="none" stroke="#e8683a" stroke-width="1.9" stroke-linejoin="round" stroke-linecap="butt" stroke-linecap="round"/>
<polyline points="96.72,133.91 96.23,135.43 95.7,136.92 95.11,138.37 94.43,139.76 93.65,141.09 92.77,142.36 91.8,143.57 90.77,144.74 89.71,145.87" fill="none" stroke="#e8683a" stroke-width="1.9" stroke-linejoin="round" stroke-linecap="butt" stroke-linecap="round"/>
<polyline points="96.72,133.91 95.64,135.08 94.59,136.27 93.62,137.49 92.73,138.76 91.95,140.1 91.28,141.48 90.69,142.92 90.18,144.39 89.71,145.87" fill="none" stroke="#b3262b" stroke-width="2.4" stroke-linejoin="round" stroke-linecap="butt" stroke-linecap="round"/>
<polyline points="89.71,145.87 89.25,147.35 88.75,148.8 88.19,150.19 87.55,151.53 86.82,152.79 85.99,153.99 85.07,155.12 84.1,156.19 83.1,157.23" fill="none" stroke="#b3262b" stroke-width="2.4" stroke-linejoin="round" stroke-linecap="butt" stroke-linecap="round"/>
<polyline points="89.71,145.87 88.66,147 87.64,148.15 86.7,149.32 85.85,150.54 85.11,151.8 84.49,153.12 83.96,154.47 83.51,155.85 83.1,157.23" fill="none" stroke="#e8683a" stroke-width="1.9" stroke-linejoin="round" stroke-linecap="butt" stroke-linecap="round"/>
<polyline points="83.1,157.23 82.71,158.6 81.95,160.51 81.48,161.78 80.93,162.97 80.29,164.09 79.25,165.66 78.45,166.61 77.3,168.02 76.44,168.85" fill="none" stroke="#e8683a" stroke-width="1.9" stroke-linejoin="round" stroke-linecap="butt" stroke-linecap="round"/>
<polyline points="83.1,157.23 82.12,158.26 80.84,159.87 79.98,160.91 79.22,161.99 78.58,163.11 77.75,164.8 77.33,165.98 76.71,167.68 76.44,168.85" fill="none" stroke="#b3262b" stroke-width="2.4" stroke-linejoin="round" stroke-linecap="butt" stroke-linecap="round"/>
<polyline points="76.44,168.85 75.91,170.48 75.38,172.03 74.83,173.48 74.23,174.81 73.57,176.01 72.85,177.09 71.9,178.38 70.97,179.49 69.97,180.71" fill="none" stroke="#b3262b" stroke-width="2.4" stroke-linejoin="round" stroke-linecap="butt" stroke-linecap="round"/>
<polyline points="76.44,168.85 75.31,170.15 74.26,171.4 73.32,172.64 72.51,173.86 71.84,175.07 71.32,176.26 70.77,177.77 70.37,179.18 69.97,180.71" fill="none" stroke="#e8683a" stroke-width="1.9" stroke-linejoin="round" stroke-linecap="butt" stroke-linecap="round"/>
<polyline points="69.97,180.71 69.92,180.99 69.76,181.48 69.73,181.73 69.61,182.16 69.59,182.37 69.52,182.73 69.46,183.04 69.44,183.29 69.43,183.56" fill="none" stroke="#e8683a" stroke-width="1.9" stroke-linejoin="round" stroke-linecap="butt" stroke-linecap="round"/>
<polyline points="69.97,180.71 69.78,180.92 69.48,181.35 69.31,181.53 69.05,181.9 68.9,182.06 68.68,182.38 68.5,182.66 68.33,182.92 68.17,183.24" fill="none" stroke="#b3262b" stroke-width="2.4" stroke-linejoin="round" stroke-linecap="butt" stroke-linecap="round"/>
<path d="M112,77 C118,76 123,78 124.5,84 L123.5,89 L122,89 C121,83 118,80 112,80 Z" fill="#b3262b"/>
<path d="M110,80 C116,80 120,81 123,86 L122.5,88 C119,84 115,83 112,84 Z" fill="#e8683a"/>
<ellipse cx="111" cy="75.5" rx="6.5" ry="3.4" fill="#b3262b" transform="rotate(8 111 75.5)"/>
<ellipse cx="108.3" cy="82.8" rx="5" ry="4.4" fill="#e8683a" transform="rotate(-20 108.3 82.8)"/>
<polyline points="294.3,55 294.14,57.16 294.09,58.59 293.96,59.98 293.71,61.32 293.34,62.6 292.64,64.44 292.03,65.59 291.33,66.67 290.38,68.28" fill="none" stroke="#e8683a" stroke-width="1.9" stroke-linejoin="round" stroke-linecap="butt" stroke-linecap="round"/>
<polyline points="294.3,55 293.48,57 292.85,58.27 292.29,59.53 291.82,60.78 291.45,62.04 290.99,63.91 290.81,65.18 290.69,66.45 290.38,68.28" fill="none" stroke="#b3262b" stroke-width="2.4" stroke-linejoin="round" stroke-linecap="butt" stroke-linecap="round"/>
<polyline points="290.38,68.28 290.27,69.51 289.87,71.25 289.37,72.92 288.99,73.99 288.25,75.47 287.37,76.83 286.35,78.13 285.5,78.99 284.31,80.34" fill="none" stroke="#b3262b" stroke-width="2.4" stroke-linejoin="round" stroke-linecap="butt" stroke-linecap="round"/>
<polyline points="290.38,68.28 289.63,69.26 288.69,70.75 287.8,72.19 287.22,73.13 286.5,74.55 285.86,75.98 285.25,77.48 284.91,78.64 284.31,80.34" fill="none" stroke="#e8683a" stroke-width="1.9" stroke-linejoin="round" stroke-linecap="butt" stroke-linecap="round"/>
<polyline points="284.31,80.34 284.01,81.52 283.37,83.19 282.66,84.82 282.17,85.9 281.27,87.42 280.57,88.37 279.49,89.77 278.63,90.63 277.44,91.98" fill="none" stroke="#e8683a" stroke-width="1.9" stroke-linejoin="round" stroke-linecap="butt" stroke-linecap="round"/>
<polyline points="284.31,80.34 283.42,81.17 282.26,82.54 281.17,83.94 280.47,84.9 279.58,86.41 279.08,87.49 278.38,89.12 278.04,90.28 277.44,91.98" fill="none" stroke="#b3262b" stroke-width="2.4" stroke-linejoin="round" stroke-linecap="butt" stroke-linecap="round"/>
<polyline points="277.44,91.98 277.14,93.16 276.5,94.83 276.09,95.96 275.3,97.54 274.4,99.05 273.7,100.01 272.62,101.41 271.76,102.27 270.57,103.61" fill="none" stroke="#b3262b" stroke-width="2.4" stroke-linejoin="round" stroke-linecap="butt" stroke-linecap="round"/>
<polyline points="277.44,91.98 276.55,92.81 275.39,94.18 274.6,95.08 273.6,96.54 272.71,98.05 272.21,99.13 271.51,100.76 271.17,101.92 270.57,103.61" fill="none" stroke="#e8683a" stroke-width="1.9" stroke-linejoin="round" stroke-linecap="butt" stroke-linecap="round"/>
<polyline points="270.57,103.61 270.27,104.8 269.63,106.47 269.23,107.6 268.43,109.18 267.54,110.69 266.84,111.64 265.75,113.05 264.89,113.91 263.7,115.25" fill="none" stroke="#e8683a" stroke-width="1.9" stroke-linejoin="round" stroke-linecap="butt" stroke-linecap="round"/>
<polyline points="270.57,103.61 269.68,104.45 268.52,105.82 267.73,106.72 266.74,108.17 265.84,109.69 265.34,110.76 264.64,112.4 264.3,113.56 263.7,115.25" fill="none" stroke="#b3262b" stroke-width="2.4" stroke-linejoin="round" stroke-linecap="butt" stroke-linecap="round"/>
<polyline points="263.7,115.25 263.4,116.44 262.76,118.11 262.36,119.24 261.56,120.81 260.67,122.33 259.97,123.28 258.88,124.69 258.02,125.55 256.83,126.89" fill="none" stroke="#b3262b" stroke-width="2.4" stroke-linejoin="round" stroke-linecap="butt" stroke-linecap="round"/>
<polyline points="263.7,115.25 262.81,116.09 261.65,117.46 260.86,118.36 259.87,119.81 258.97,121.33 258.47,122.4 257.77,124.04 257.43,125.2 256.83,126.89" fill="none" stroke="#e8683a" stroke-width="1.9" stroke-linejoin="round" stroke-linecap="butt" stroke-linecap="round"/>
<polyline points="256.83,126.89 256.53,128.08 255.89,129.75 255.49,130.87 254.69,132.45 253.8,133.97 253.1,134.92 252.01,136.33 251.15,137.19 249.96,138.53" fill="none" stroke="#e8683a" stroke-width="1.9" stroke-linejoin="round" stroke-linecap="butt" stroke-linecap="round"/>
<polyline points="256.83,126.89 255.94,127.73 254.78,129.1 254,129.99 253,131.45 252.1,132.97 251.61,134.04 250.9,135.67 250.56,136.84 249.96,138.53" fill="none" stroke="#b3262b" stroke-width="2.4" stroke-linejoin="round" stroke-linecap="butt" stroke-linecap="round"/>
<polyline points="249.96,138.53 249.66,139.72 249.02,141.39 248.62,142.51 247.82,144.09 247.23,145.1 246.23,146.56 245.14,147.97 244.28,148.83 243.09,150.17" fill="none" stroke="#b3262b" stroke-width="2.4" stroke-linejoin="round" stroke-linecap="butt" stroke-linecap="round"/>
<polyline points="249.96,138.53 249.07,139.37 247.92,140.73 247.13,141.63 246.13,143.09 245.53,144.1 244.74,145.68 244.03,147.31 243.69,148.48 243.09,150.17" fill="none" stroke="#e8683a" stroke-width="1.9" stroke-linejoin="round" stroke-linecap="butt" stroke-linecap="round"/>
<polyline points="243.09,150.17 243.17,150.21 242.95,150.76 242.72,151.31 242.79,151.36 242.56,151.9 242.33,152.45 242.4,152.49 242.16,153.03 242.21,153.06" fill="none" stroke="#e8683a" stroke-width="1.9" stroke-linejoin="round" stroke-linecap="butt" stroke-linecap="round"/>
<polyline points="243.09,150.17 243.02,150.13 242.64,150.59 242.27,151.05 242.2,151.01 241.83,151.47 241.46,151.94 241.4,151.9 241.04,152.37 240.99,152.34" fill="none" stroke="#b3262b" stroke-width="2.4" stroke-linejoin="round" stroke-linecap="butt" stroke-linecap="round"/>
<path d="M283,47 C289,47 294,50 295,55 L294,58 C292,53 288,51 283,51 Z" fill="#b3262b"/>
<path d="M282,50 C287,50 291,52 293.5,56 L292.5,58 C290,54 286,53 283,54 Z" fill="#e8683a"/>
<ellipse cx="284.3" cy="45.3" rx="7.6" ry="3.6" fill="#b3262b" transform="rotate(10 284.3 45.3)"/>
<ellipse cx="280.2" cy="52" rx="4.8" ry="3.8" fill="#e8683a" transform="rotate(-15 280.2 52)"/>
<line x1="133.8" y1="92" x2="237" y2="92" stroke="#000" stroke-width="1.9"/>
<path d="M243.4,92 L235.3,88.6 L235.3,95.4 Z" fill="#000"/>
<line x1="140" y1="105.5" x2="243.2" y2="105.5" stroke="#000" stroke-width="1.9"/>
<path d="M133.6,105.5 L141.7,102.1 L141.7,108.9 Z" fill="#000"/>
<text transform="translate(350.87 123) scale(0.852 1)" x="0" y="0" font-size="16.5" font-style="italic" fill="#000" stroke="#000" stroke-width="0.12" style='font-family:"Liberation Serif", serif'>V</text>
<text transform="translate(365.82 123.8) scale(1.315 1)" x="0" y="0" font-size="16.5" fill="#000" stroke="#000" stroke-width="0" style='font-family:"Liberation Serif", serif'>=</text>
<text transform="translate(383.24 123) scale(0.887 1)" x="0" y="0" font-size="16.5" font-style="italic" fill="#000" stroke="#000" stroke-width="0.12" style='font-family:"Liberation Serif", serif'>β</text>
<text transform="translate(393.1 123) scale(0.888 1)" x="0" y="0" font-size="16.5" font-style="italic" fill="#000" stroke="#000" stroke-width="0.12" style='font-family:"Liberation Serif", serif'>A</text>
<text transform="translate(403.02 123) scale(1.345 1)" x="0" y="0" font-size="16.5" fill="#000" stroke="#000" stroke-width="0.12" style='font-family:"Liberation Serif", serif'>(</text>
<text transform="translate(409.43 123) scale(1.153 1)" x="0" y="0" font-size="16.5" fill="#000" stroke="#000" stroke-width="0.12" style='font-family:"Liberation Serif", serif'>1</text>
<text transform="translate(422.44 123.8) scale(1.289 1)" x="0" y="0" font-size="16.5" fill="#000" stroke="#000" stroke-width="0" style='font-family:"Liberation Serif", serif'>−</text>
<text transform="translate(438.84 123) scale(0.879 1)" x="0" y="0" font-size="16.5" font-style="italic" fill="#000" stroke="#000" stroke-width="0.12" style='font-family:"Liberation Serif", serif'>V</text>
<text transform="translate(448.95 123) scale(1.227 1)" x="0" y="0" font-size="16.5" fill="#000" stroke="#000" stroke-width="0.12" style='font-family:"Liberation Serif", serif'>)</text>
<text transform="translate(309.08 147.4) scale(0.919 1)" x="0" y="0" font-size="16.5" font-style="italic" fill="#000" stroke="#000" stroke-width="0.12" style='font-family:"Liberation Serif", serif'>E</text>
<text transform="translate(323.27 148.2) scale(1.250 1)" x="0" y="0" font-size="16.5" fill="#000" stroke="#000" stroke-width="0" style='font-family:"Liberation Serif", serif'>=</text>
<text transform="translate(340.44 147.4) scale(0.862 1)" x="0" y="0" font-size="16.5" font-style="italic" fill="#000" stroke="#000" stroke-width="0.12" style='font-family:"Liberation Serif", serif'>ζ</text>
<text transform="translate(349.21 147.4) scale(1.227 1)" x="0" y="0" font-size="16.5" fill="#000" stroke="#000" stroke-width="0.12" style='font-family:"Liberation Serif", serif'>(</text>
<text transform="translate(355.58 147.4) scale(1.050 1)" x="0" y="0" font-size="16.5" fill="#000" stroke="#000" stroke-width="0.12" style='font-family:"Liberation Serif", serif'>1</text>
<text transform="translate(367.87 148.2) scale(1.250 1)" x="0" y="0" font-size="16.5" fill="#000" stroke="#000" stroke-width="0" style='font-family:"Liberation Serif", serif'>−</text>
<text transform="translate(384.58 147.4) scale(0.870 1)" x="0" y="0" font-size="16.5" font-style="italic" fill="#000" stroke="#000" stroke-width="0.12" style='font-family:"Liberation Serif", serif'>A</text>
<text transform="translate(393.79 147.4) scale(1.156 1)" x="0" y="0" font-size="16.5" fill="#000" stroke="#000" stroke-width="0.12" style='font-family:"Liberation Serif", serif'>)</text>
<text transform="translate(404.83 148.2) scale(1.302 1)" x="0" y="0" font-size="16.5" fill="#000" stroke="#000" stroke-width="0" style='font-family:"Liberation Serif", serif'>+</text>
<text transform="translate(420.45 147.4) scale(1.067 1)" x="0" y="0" font-size="16.5" fill="#000" stroke="#000" stroke-width="0.12" style='font-family:"Liberation Serif", serif'>1</text>
<text transform="translate(429.6 147.4) scale(1.549 1)" x="0" y="0" font-size="16.5" fill="#000" stroke="#000" stroke-width="0.12" style='font-family:"Liberation Serif", serif'>/</text>
<text transform="translate(437.68 147.4) scale(1.066 1)" x="0" y="0" font-size="16.5" font-style="italic" fill="#000" stroke="#000" stroke-width="0.12" style='font-family:"Liberation Serif", serif'>α</text>
<text transform="translate(447.42 141.3) scale(1.406 1)" x="0" y="0" font-size="11" fill="#000" stroke="#000" stroke-width="0.12" style='font-family:"Liberation Serif", serif'>2</text>
<text transform="translate(294.98 171.9) scale(0.870 1)" x="0" y="0" font-size="16.5" font-style="italic" fill="#000" stroke="#000" stroke-width="0.12" style='font-family:"Liberation Serif", serif'>A</text>
<text transform="translate(308.88 172.7) scale(1.368 1)" x="0" y="0" font-size="16.5" fill="#000" stroke="#000" stroke-width="0" style='font-family:"Liberation Serif", serif'>=</text>
<text transform="translate(325.35 171.9) scale(1.136 1)" x="0" y="0" font-size="16.5" fill="#000" stroke="#000" stroke-width="0.12" style='font-family:"Liberation Serif", serif'>1</text>
<text transform="translate(338.94 172.7) scale(1.289 1)" x="0" y="0" font-size="16.5" fill="#000" stroke="#000" stroke-width="0" style='font-family:"Liberation Serif", serif'>−</text>
<text transform="translate(354.98 171.9) scale(0.861 1)" x="0" y="0" font-size="16.5" font-style="italic" fill="#000" stroke="#000" stroke-width="0.12" style='font-family:"Liberation Serif", serif'>A</text>
<text transform="translate(364.62 171.9) scale(1.345 1)" x="0" y="0" font-size="16.5" fill="#000" stroke="#000" stroke-width="0.12" style='font-family:"Liberation Serif", serif'>(</text>
<text transform="translate(371.68 171.9) scale(1.050 1)" x="0" y="0" font-size="16.5" fill="#000" stroke="#000" stroke-width="0.12" style='font-family:"Liberation Serif", serif'>1</text>
<text transform="translate(384.48 172.7) scale(1.237 1)" x="0" y="0" font-size="16.5" fill="#000" stroke="#000" stroke-width="0" style='font-family:"Liberation Serif", serif'>+</text>
<text transform="translate(400.22 171.9) scale(0.971 1)" x="0" y="0" font-size="16.5" font-style="italic" fill="#000" stroke="#000" stroke-width="0.12" style='font-family:"Liberation Serif", serif'>α</text>
<text transform="translate(408.05 171.9) scale(0.990 1)" x="0" y="0" font-size="16.5" font-style="italic" fill="#000" stroke="#000" stroke-width="0.12" style='font-family:"Liberation Serif", serif'>V</text>
<text transform="translate(424.16 172.7) scale(1.263 1)" x="0" y="0" font-size="16.5" fill="#000" stroke="#000" stroke-width="0" style='font-family:"Liberation Serif", serif'>+</text>
<text transform="translate(439.65 171.9) scale(1.173 1)" x="0" y="0" font-size="16.5" font-style="italic" fill="#000" stroke="#000" stroke-width="0.12" style='font-family:"Liberation Serif", serif'>γ</text>
<text transform="translate(447.98 171.9) scale(1.345 1)" x="0" y="0" font-size="16.5" fill="#000" stroke="#000" stroke-width="0.12" style='font-family:"Liberation Serif", serif'>)</text>
<circle cx="356.2" cy="109.3" r="1.05" fill="#000"/>
<circle cx="314.6" cy="133.8" r="1.05" fill="#000"/>
<circle cx="301.3" cy="158.5" r="1.05" fill="#000"/>
<text transform="translate(151.34 79.9) scale(1.107 1)" x="0" y="0" font-size="14.5" font-style="italic" fill="#000" stroke="#000" stroke-width="0.12" style='font-family:"Liberation Serif", serif'>k</text>
<text transform="translate(169.72 80.5) scale(1.364 1)" x="0" y="0" font-size="14.5" fill="#000" stroke="#000" stroke-width="0" style='font-family:"Liberation Serif", serif'>=</text>
<text transform="translate(183.84 79.9) scale(1.069 1)" x="0" y="0" font-size="14.5" font-style="italic" fill="#000" stroke="#000" stroke-width="0.12" style='font-family:"Liberation Serif", serif'>Const.</text>
<text transform="translate(159 82.8) scale(1.117 1)" x="0" y="0" font-size="12" font-style="italic" fill="#000" stroke="#000" stroke-width="0.12" style='font-family:"Liberation Serif", serif'>a</text>
<text transform="translate(137.66 128.1) scale(1.043 1)" x="0" y="0" font-size="14.5" font-style="italic" fill="#000" stroke="#000" stroke-width="0.12" style='font-family:"Liberation Serif", serif'>k</text>
<text transform="translate(155.92 128.7) scale(1.364 1)" x="0" y="0" font-size="14.5" fill="#000" stroke="#000" stroke-width="0" style='font-family:"Liberation Serif", serif'>=</text>
<text transform="translate(171.04 128.1) scale(0.841 1)" x="0" y="0" font-size="14.5" font-style="italic" fill="#000" stroke="#000" stroke-width="0.12" style='font-family:"Liberation Serif", serif'>K</text>
<text transform="translate(197.06 128.1) scale(0.843 1)" x="0" y="0" font-size="14.5" font-style="italic" fill="#000" stroke="#000" stroke-width="0.12" style='font-family:"Liberation Serif", serif'>V</text>
<text transform="translate(209.15 128.7) scale(1.319 1)" x="0" y="0" font-size="14.5" fill="#000" stroke="#000" stroke-width="0" style='font-family:"Liberation Serif", serif'>+</text>
<text transform="translate(222.52 128.1) scale(1.140 1)" x="0" y="0" font-size="14.5" font-style="italic" fill="#000" stroke="#000" stroke-width="0.12" style='font-family:"Liberation Serif", serif'>k</text>
<text transform="translate(145.11 131.7) scale(1.174 1)" x="0" y="0" font-size="11" font-style="italic" fill="#000" stroke="#000" stroke-width="0.12" style='font-family:"Liberation Serif", serif'>d</text>
<text transform="translate(180 131.4) scale(0.835 1)" x="0" y="0" font-size="10.5" font-style="italic" fill="#000" stroke="#000" stroke-width="0.12" style='font-family:"Liberation Serif", serif'>D</text>
<text transform="translate(230.23 131.4) scale(1.115 1)" x="0" y="0" font-size="11" fill="#000" stroke="#000" stroke-width="0.12" style='font-family:"Liberation Serif", serif'>0</text>
<circle cx="192.1" cy="124.3" r="1.0" fill="#000"/>
</svg>
</body></html>
